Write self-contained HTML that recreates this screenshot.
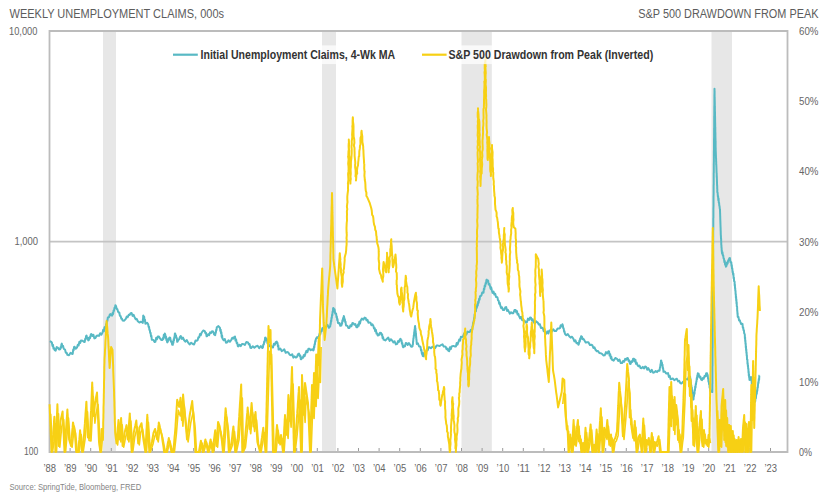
<!DOCTYPE html>
<html><head><meta charset="utf-8"><style>
html,body{margin:0;padding:0;background:#fff;width:834px;height:500px;overflow:hidden}
</style></head><body>
<svg width="834" height="500" viewBox="0 0 834 500" style="display:block"><rect x="0" y="0" width="834" height="500" fill="#ffffff"/><rect x="103" y="31" width="13.0" height="421" fill="#e7e7e7"/><rect x="322" y="31" width="14.0" height="421" fill="#e7e7e7"/><rect x="461.5" y="31" width="30.3" height="421" fill="#e7e7e7"/><rect x="711.5" y="31" width="20.5" height="421" fill="#e7e7e7"/><line x1="49.5" y1="241.6" x2="787.5" y2="241.6" stroke="#c4c4c4" stroke-width="1.6"/><line x1="49.5" y1="452" x2="49.5" y2="448" stroke="#9a9a9a" stroke-width="1"/><line x1="70.1" y1="452" x2="70.1" y2="448" stroke="#9a9a9a" stroke-width="1"/><line x1="90.7" y1="452" x2="90.7" y2="448" stroke="#9a9a9a" stroke-width="1"/><line x1="111.3" y1="452" x2="111.3" y2="448" stroke="#9a9a9a" stroke-width="1"/><line x1="131.9" y1="452" x2="131.9" y2="448" stroke="#9a9a9a" stroke-width="1"/><line x1="152.5" y1="452" x2="152.5" y2="448" stroke="#9a9a9a" stroke-width="1"/><line x1="173.1" y1="452" x2="173.1" y2="448" stroke="#9a9a9a" stroke-width="1"/><line x1="193.7" y1="452" x2="193.7" y2="448" stroke="#9a9a9a" stroke-width="1"/><line x1="214.3" y1="452" x2="214.3" y2="448" stroke="#9a9a9a" stroke-width="1"/><line x1="234.9" y1="452" x2="234.9" y2="448" stroke="#9a9a9a" stroke-width="1"/><line x1="255.5" y1="452" x2="255.5" y2="448" stroke="#9a9a9a" stroke-width="1"/><line x1="276.1" y1="452" x2="276.1" y2="448" stroke="#9a9a9a" stroke-width="1"/><line x1="296.7" y1="452" x2="296.7" y2="448" stroke="#9a9a9a" stroke-width="1"/><line x1="317.3" y1="452" x2="317.3" y2="448" stroke="#9a9a9a" stroke-width="1"/><line x1="337.9" y1="452" x2="337.9" y2="448" stroke="#9a9a9a" stroke-width="1"/><line x1="358.5" y1="452" x2="358.5" y2="448" stroke="#9a9a9a" stroke-width="1"/><line x1="379.1" y1="452" x2="379.1" y2="448" stroke="#9a9a9a" stroke-width="1"/><line x1="399.7" y1="452" x2="399.7" y2="448" stroke="#9a9a9a" stroke-width="1"/><line x1="420.3" y1="452" x2="420.3" y2="448" stroke="#9a9a9a" stroke-width="1"/><line x1="440.9" y1="452" x2="440.9" y2="448" stroke="#9a9a9a" stroke-width="1"/><line x1="461.5" y1="452" x2="461.5" y2="448" stroke="#9a9a9a" stroke-width="1"/><line x1="482.1" y1="452" x2="482.1" y2="448" stroke="#9a9a9a" stroke-width="1"/><line x1="502.7" y1="452" x2="502.7" y2="448" stroke="#9a9a9a" stroke-width="1"/><line x1="523.3" y1="452" x2="523.3" y2="448" stroke="#9a9a9a" stroke-width="1"/><line x1="543.9" y1="452" x2="543.9" y2="448" stroke="#9a9a9a" stroke-width="1"/><line x1="564.5" y1="452" x2="564.5" y2="448" stroke="#9a9a9a" stroke-width="1"/><line x1="585.1" y1="452" x2="585.1" y2="448" stroke="#9a9a9a" stroke-width="1"/><line x1="605.7" y1="452" x2="605.7" y2="448" stroke="#9a9a9a" stroke-width="1"/><line x1="626.3" y1="452" x2="626.3" y2="448" stroke="#9a9a9a" stroke-width="1"/><line x1="646.9" y1="452" x2="646.9" y2="448" stroke="#9a9a9a" stroke-width="1"/><line x1="667.5" y1="452" x2="667.5" y2="448" stroke="#9a9a9a" stroke-width="1"/><line x1="688.1" y1="452" x2="688.1" y2="448" stroke="#9a9a9a" stroke-width="1"/><line x1="708.7" y1="452" x2="708.7" y2="448" stroke="#9a9a9a" stroke-width="1"/><line x1="729.3" y1="452" x2="729.3" y2="448" stroke="#9a9a9a" stroke-width="1"/><line x1="749.9" y1="452" x2="749.9" y2="448" stroke="#9a9a9a" stroke-width="1"/><line x1="770.5" y1="452" x2="770.5" y2="448" stroke="#9a9a9a" stroke-width="1"/><path d="M49.5,31 H787.5 V452 H49.5 Z" fill="none" stroke="#bcbcbc" stroke-width="1.8"/><path d="M49.8,341.2 L51.4,342.0 L51.9,342.7 L52.5,346.0 L53.0,345.0 L53.5,348.5 L54.1,348.1 L54.6,350.0 L55.7,350.6 L56.7,347.1 L57.8,347.6 L59.0,349.4 L60.2,349.2 L60.6,347.1 L61.0,347.9 L61.4,344.5 L61.8,343.6 L62.4,346.5 L63.0,345.7 L63.6,348.3 L64.2,349.2 L65.0,349.6 L65.8,352.7 L66.6,352.7 L67.4,354.8 L69.0,355.3 L70.6,352.8 L72.2,354.0 L72.7,353.8 L73.2,349.5 L73.6,350.3 L74.1,347.0 L74.6,346.8 L75.8,348.7 L77.0,347.6 L77.8,344.8 L78.6,345.5 L79.4,341.8 L80.2,342.9 L81.0,340.4 L82.6,340.7 L84.2,342.0 L84.7,342.1 L85.2,338.8 L85.6,339.4 L86.1,336.0 L86.6,335.6 L87.1,338.2 L87.7,337.7 L88.2,340.4 L88.8,340.1 L89.5,337.3 L90.1,338.1 L90.8,334.4 L91.4,334.0 L92.4,336.0 L93.4,334.7 L94.4,338.4 L95.4,338.0 L96.6,335.7 L97.8,335.6 L99.0,335.9 L100.2,333.2 L101.4,334.8 L102.6,332.4 L103.2,329.8 L103.9,331.3 L104.5,327.2 L105.2,328.4 L105.8,326.0 L106.2,324.0 L106.6,324.2 L107.0,320.6 L107.4,321.0 L107.8,317.6 L108.2,317.2 L109.0,317.3 L109.8,314.6 L110.6,314.0 L111.4,315.5 L112.2,315.6 L112.7,312.7 L113.1,314.0 L113.6,310.4 L114.0,310.9 L114.5,307.7 L114.9,308.0 L115.4,305.2 L116.0,306.0 L116.7,308.9 L117.3,308.9 L118.0,311.6 L118.6,312.4 L119.3,312.5 L119.9,315.9 L120.6,315.9 L121.3,318.7 L121.9,318.5 L122.6,320.4 L124.2,320.7 L125.8,318.8 L126.8,316.5 L127.7,317.1 L128.7,314.8 L129.6,315.0 L130.6,313.2 L131.6,313.0 L132.6,315.9 L133.6,314.8 L134.6,317.2 L135.7,319.3 L136.7,318.9 L137.8,321.2 L139.4,322.6 L141.0,321.7 L142.6,322.8 L142.8,322.9 L142.9,319.1 L143.1,319.3 L143.2,315.7 L143.4,315.6 L143.8,317.7 L144.2,316.8 L144.6,321.0 L145.0,319.8 L145.4,323.7 L145.8,323.6 L147.0,322.7 L148.2,324.4 L148.6,326.8 L149.0,326.7 L149.4,329.9 L149.8,329.9 L150.2,332.8 L150.6,332.7 L151.0,336.5 L151.4,335.9 L151.8,339.7 L152.2,339.6 L153.4,339.9 L154.6,342.0 L155.4,341.8 L156.2,337.7 L157.0,339.3 L157.8,336.4 L158.9,336.4 L160.0,338.4 L161.2,339.9 L162.4,340.0 L162.9,338.1 L163.4,338.9 L163.8,334.8 L164.3,336.3 L164.8,333.6 L165.2,334.2 L165.6,338.0 L166.0,336.5 L166.4,340.1 L166.8,340.3 L167.2,342.4 L167.8,341.8 L168.4,338.6 L169.0,339.7 L169.6,337.6 L170.2,337.7 L170.9,341.6 L171.5,341.3 L172.2,344.8 L172.8,344.8 L173.1,341.9 L173.4,342.8 L173.7,339.2 L174.0,340.4 L174.3,337.2 L174.6,336.9 L174.9,333.4 L175.2,333.6 L175.6,335.5 L176.0,335.5 L176.4,338.2 L176.8,338.0 L177.2,341.8 L177.6,341.6 L178.4,339.4 L179.2,339.4 L180.0,336.9 L180.8,336.0 L181.9,338.9 L182.9,337.5 L184.0,340.0 L185.3,341.6 L186.7,340.1 L188.0,342.4 L189.6,344.5 L191.2,342.7 L192.8,344.0 L194.1,344.5 L195.5,340.6 L196.8,340.8 L197.6,340.2 L198.4,337.3 L199.2,337.4 L200.0,333.9 L200.8,335.3 L201.6,332.8 L203.2,330.5 L204.8,331.2 L205.4,333.2 L206.0,332.8 L206.6,336.3 L207.2,336.0 L208.2,334.2 L209.1,335.2 L210.1,332.4 L211.0,332.9 L212.0,331.2 L213.1,331.4 L214.1,334.4 L215.2,335.2 L215.5,332.8 L215.8,333.0 L216.2,329.7 L216.5,330.2 L216.8,327.2 L218.4,326.1 L220.0,328.0 L220.3,330.8 L220.7,329.6 L221.0,333.1 L221.4,332.4 L221.7,336.9 L222.1,335.4 L222.4,338.4 L223.6,340.2 L224.8,339.0 L226.0,342.8 L227.2,342.4 L228.5,340.3 L229.9,341.8 L231.2,340.0 L232.3,337.7 L233.3,338.6 L234.4,336.8 L235.0,336.6 L235.5,340.6 L236.1,339.5 L236.7,343.2 L237.3,342.9 L237.8,346.2 L238.4,346.4 L239.6,344.7 L240.8,346.1 L242.0,344.0 L243.2,344.0 L244.8,344.9 L246.4,342.0 L248.0,342.4 L248.8,344.5 L249.6,344.1 L250.4,347.8 L251.2,348.0 L252.8,346.2 L254.4,347.7 L256.0,346.4 L257.6,345.8 L259.2,348.1 L260.8,346.1 L262.4,348.0 L262.9,347.3 L263.3,344.5 L263.8,344.6 L264.2,341.4 L264.7,342.0 L265.1,337.8 L265.6,337.6 L266.2,339.9 L266.9,339.2 L267.5,343.4 L268.2,341.8 L268.8,344.8 L269.9,346.3 L270.9,345.7 L272.0,347.2 L273.0,347.4 L273.9,343.7 L274.9,344.7 L275.8,342.1 L276.8,341.6 L277.2,343.5 L277.5,342.9 L277.9,346.4 L278.3,345.4 L278.6,349.6 L279.0,349.6 L280.3,348.6 L281.7,351.1 L283.0,350.4 L284.3,349.4 L285.7,352.8 L287.0,352.0 L288.3,352.4 L289.7,354.8 L291.0,355.2 L292.2,354.2 L293.4,357.6 L294.6,356.4 L295.8,357.6 L296.9,357.0 L297.9,354.4 L299.0,353.6 L299.6,356.0 L300.2,355.2 L300.8,359.2 L301.4,359.2 L302.2,357.3 L303.0,357.7 L303.8,355.1 L304.6,356.1 L305.4,353.6 L306.4,350.8 L307.4,352.2 L308.4,348.7 L309.4,348.8 L310.7,350.2 L312.1,349.3 L313.4,350.4 L313.7,349.6 L314.0,346.5 L314.3,347.5 L314.6,344.2 L314.9,344.5 L315.2,341.0 L315.5,341.7 L315.8,339.2 L316.9,337.2 L317.9,337.9 L319.0,336.0 L319.7,333.3 L320.3,334.4 L321.0,331.1 L321.7,331.2 L322.3,328.2 L323.0,328.0 L324.6,328.6 L326.2,326.4 L327.5,324.8 L328.9,327.8 L330.2,326.4 L330.5,323.6 L330.7,324.2 L331.0,320.6 L331.3,321.1 L331.5,317.8 L331.8,318.1 L332.1,314.5 L332.3,315.6 L332.6,311.6 L332.9,312.3 L333.1,308.3 L333.4,308.0 L334.0,310.6 L334.6,309.3 L335.2,313.6 L335.8,313.6 L336.1,313.6 L336.5,317.2 L336.8,316.4 L337.2,320.2 L337.5,319.0 L337.9,322.8 L338.2,323.2 L339.3,322.9 L340.3,325.8 L341.4,325.6 L341.7,323.0 L342.1,323.9 L342.4,320.2 L342.8,321.4 L343.1,318.0 L343.5,318.8 L343.8,316.0 L344.1,316.8 L344.5,319.8 L344.8,319.1 L345.2,322.2 L345.5,321.6 L345.9,325.0 L346.2,325.6 L347.3,325.7 L348.3,327.9 L349.4,328.0 L350.4,325.3 L351.4,326.3 L352.4,323.1 L353.4,323.2 L354.4,324.7 L355.4,324.0 L356.4,327.2 L357.4,327.2 L358.0,324.6 L358.7,325.8 L359.3,321.8 L360.0,323.6 L360.6,320.8 L361.9,318.6 L363.3,319.7 L364.6,317.6 L365.6,317.9 L366.5,320.4 L367.5,319.7 L368.4,322.7 L369.4,322.4 L370.4,322.7 L371.4,325.2 L372.4,324.4 L373.4,326.0 L374.0,328.5 L374.6,328.0 L375.2,331.3 L375.9,329.8 L376.5,333.6 L377.1,333.4 L377.7,335.4 L378.8,335.2 L380.0,332.7 L381.1,332.9 L381.6,334.9 L382.1,334.2 L382.6,338.1 L383.1,337.1 L383.6,339.7 L385.3,340.4 L387.0,338.8 L388.3,337.6 L389.6,341.0 L390.8,339.2 L392.1,340.5 L393.4,342.5 L394.6,341.3 L395.9,344.4 L397.2,343.9 L398.1,341.1 L398.9,342.0 L399.8,339.5 L400.6,338.8 L401.0,340.8 L401.5,340.2 L401.9,343.6 L402.3,343.0 L402.8,346.7 L403.2,347.3 L404.1,345.7 L404.9,346.4 L405.8,342.9 L406.6,343.1 L407.7,344.9 L408.9,343.0 L410.0,344.8 L411.2,346.8 L412.5,346.5 L412.7,344.5 L412.9,344.7 L413.1,340.9 L413.2,341.7 L413.4,338.3 L413.6,338.4 L413.8,335.3 L414.0,336.1 L414.2,332.0 L414.4,332.6 L414.5,329.7 L414.7,330.4 L414.9,326.9 L415.1,326.0 L415.2,328.9 L415.4,328.1 L415.5,331.0 L415.7,331.0 L415.8,334.4 L416.0,333.5 L416.1,337.5 L416.2,336.6 L416.4,339.9 L416.5,339.6 L416.7,343.0 L416.8,343.9 L417.9,343.4 L419.1,346.5 L420.2,346.5 L420.6,347.3 L421.0,350.4 L421.4,349.8 L421.9,353.8 L422.3,353.0 L422.7,355.8 L423.6,356.3 L424.4,352.3 L425.2,353.7 L426.1,351.6 L427.0,349.1 L427.8,350.1 L428.6,347.3 L429.5,347.3 L430.9,348.2 L432.4,346.8 L433.8,347.3 L435.2,347.9 L436.6,345.4 L438.0,345.6 L439.7,346.0 L441.4,344.8 L442.5,344.3 L443.7,346.6 L444.8,346.5 L445.6,346.7 L446.5,349.2 L447.4,348.6 L448.2,350.7 L449.1,351.2 L449.9,347.2 L450.8,349.1 L451.6,346.5 L453.3,345.9 L455.0,346.5 L455.9,346.5 L456.7,343.0 L457.5,344.6 L458.4,342.2 L459.2,339.4 L460.1,340.6 L460.9,336.8 L461.8,337.1 L462.9,336.6 L464.1,333.6 L465.2,333.7 L466.3,334.6 L467.5,331.6 L468.6,332.0 L469.7,332.0 L470.9,329.8 L472.0,330.3 L472.3,329.4 L472.5,326.2 L472.8,326.5 L473.0,323.1 L473.3,323.7 L473.6,321.1 L473.8,321.6 L474.1,317.9 L474.4,318.4 L474.6,314.3 L474.9,315.5 L475.1,311.3 L475.4,311.4 L475.9,311.3 L476.3,307.0 L476.8,307.9 L477.3,304.5 L477.7,305.5 L478.2,301.6 L478.6,302.8 L479.1,298.8 L479.6,299.6 L480.0,296.2 L480.5,296.1 L481.4,295.6 L482.2,292.4 L483.1,292.7 L483.5,292.8 L483.9,288.7 L484.3,289.4 L484.7,285.5 L485.2,286.4 L485.6,283.1 L486.0,283.6 L486.4,280.0 L486.8,279.6 L487.4,281.5 L488.1,280.6 L488.7,284.6 L489.4,283.8 L490.0,286.0 L490.6,288.9 L491.2,287.4 L491.8,290.3 L492.6,292.9 L493.5,291.6 L494.4,294.6 L495.2,293.8 L496.0,297.0 L496.9,297.1 L497.5,297.6 L498.0,300.4 L498.6,300.6 L499.2,303.9 L499.7,302.6 L500.3,305.6 L501.2,308.1 L502.0,307.2 L502.9,309.9 L504.1,310.0 L505.4,307.3 L506.2,307.1 L507.1,311.0 L507.9,309.9 L508.8,311.6 L509.9,313.7 L511.1,312.2 L512.2,313.3 L513.3,313.2 L514.5,310.1 L515.6,309.9 L516.3,312.5 L517.0,311.1 L517.6,314.5 L518.3,313.8 L519.0,315.8 L520.1,318.4 L521.1,316.9 L522.2,320.3 L523.3,320.1 L524.5,320.6 L525.8,322.6 L526.9,322.3 L528.0,318.6 L529.0,320.0 L530.1,317.5 L531.0,317.7 L531.8,320.5 L532.6,319.2 L533.5,321.8 L534.9,323.5 L536.3,321.4 L537.7,322.6 L538.8,324.6 L539.9,324.2 L540.9,328.0 L542.0,327.7 L542.8,327.9 L543.7,331.2 L544.5,330.0 L545.4,333.5 L546.2,333.7 L547.3,331.3 L548.4,333.5 L549.4,330.4 L550.5,330.3 L551.9,331.5 L553.3,329.4 L554.7,331.1 L556.1,331.1 L557.6,328.5 L559.0,328.6 L559.9,328.2 L560.7,325.3 L561.5,326.5 L562.4,324.3 L562.8,325.2 L563.2,328.2 L563.6,328.2 L564.1,331.5 L564.5,331.3 L564.9,333.7 L566.3,335.2 L567.8,334.1 L569.2,336.2 L570.6,337.6 L572.0,336.7 L573.4,338.8 L574.4,341.4 L575.4,340.3 L576.5,343.2 L577.5,342.9 L578.5,344.7 L578.9,343.9 L579.4,340.6 L579.8,341.7 L580.2,338.3 L580.7,339.1 L581.1,336.2 L582.0,336.8 L582.8,339.2 L583.6,338.9 L584.5,340.5 L585.8,342.6 L587.0,342.2 L588.4,342.2 L589.9,344.9 L591.3,344.7 L592.3,345.1 L593.4,348.0 L594.5,347.3 L595.5,349.8 L596.8,351.2 L598.0,350.9 L599.3,353.1 L600.6,353.2 L602.0,353.8 L603.4,355.4 L604.7,355.3 L606.0,352.1 L607.2,353.5 L608.5,351.2 L609.1,351.6 L609.6,355.6 L610.2,354.1 L610.8,358.3 L611.3,356.8 L611.9,359.7 L613.6,360.6 L615.3,358.0 L617.0,358.8 L618.3,361.0 L619.5,359.5 L620.8,363.1 L622.1,363.1 L623.1,361.0 L624.1,361.8 L625.2,358.9 L626.2,359.8 L627.2,358.0 L627.9,358.2 L628.6,361.0 L629.2,360.3 L629.9,363.8 L630.6,363.9 L631.5,361.3 L632.3,361.9 L633.1,358.8 L634.0,358.8 L634.7,361.5 L635.4,359.7 L636.0,363.8 L636.7,362.7 L637.4,364.8 L638.5,366.3 L639.5,365.6 L640.6,368.0 L641.7,368.2 L642.8,366.9 L644.0,368.4 L645.1,366.5 L646.1,366.9 L647.2,369.7 L648.2,368.1 L649.3,369.9 L650.6,372.0 L651.8,369.8 L653.1,372.7 L654.4,372.4 L655.7,371.0 L657.0,372.1 L658.2,370.6 L659.5,370.7 L659.7,369.7 L660.0,367.2 L660.2,367.4 L660.5,364.1 L660.7,364.9 L661.0,360.6 L661.2,360.5 L661.5,362.6 L661.9,362.5 L662.2,365.5 L662.5,364.7 L662.8,368.3 L663.1,368.0 L663.5,371.8 L663.8,371.6 L664.9,371.6 L666.1,373.6 L667.2,373.3 L668.0,373.1 L668.9,376.9 L669.7,375.8 L670.6,379.3 L671.4,379.2 L672.8,378.5 L674.3,380.2 L675.7,379.2 L676.9,378.8 L678.1,381.4 L679.2,380.9 L680.4,383.3 L681.6,383.5 L682.9,381.8 L684.2,382.9 L685.4,378.9 L686.7,379.2 L687.8,379.4 L689.0,376.2 L690.1,376.7 L690.3,378.9 L690.5,378.7 L690.7,382.8 L690.9,382.2 L691.1,384.9 L691.3,385.3 L691.5,388.7 L691.8,387.5 L692.0,391.1 L692.2,390.6 L692.4,394.0 L692.6,393.8 L692.8,398.0 L693.0,397.2 L693.2,399.6 L693.5,399.5 L693.7,395.2 L694.0,396.1 L694.2,392.4 L694.5,393.9 L694.7,389.7 L695.0,390.3 L695.2,386.4 L695.5,387.7 L695.8,383.8 L696.0,384.3 L696.3,381.5 L696.5,381.5 L696.8,377.9 L697.0,379.3 L697.3,375.7 L697.5,375.6 L697.8,373.3 L698.6,373.7 L699.5,377.6 L700.3,376.5 L701.2,379.7 L702.0,380.1 L702.9,378.0 L703.7,378.8 L704.5,376.0 L705.4,376.4 L706.2,373.3 L707.1,373.3 L707.4,376.1 L707.7,375.0 L708.0,378.4 L708.2,378.4 L708.5,381.7 L708.8,381.6 L709.1,384.4 L709.4,384.1 L709.6,387.6 L709.9,387.0 L710.2,390.5 L710.5,391.1 L712.3,392.0 L712.3,389.3 L712.3,390.4 L712.3,386.2 L712.3,387.3 L712.3,383.9 L712.4,383.6 L712.4,380.6 L712.4,381.3 L712.4,377.7 L712.4,377.8 L712.4,374.7 L712.4,374.6 L712.4,371.8 L712.4,371.9 L712.4,368.4 L712.4,369.4 L712.4,366.0 L712.5,365.9 L712.5,362.0 L712.5,362.7 L712.5,359.4 L712.5,359.8 L712.5,357.0 L712.5,357.4 L712.5,353.7 L712.5,353.8 L712.5,350.9 L712.5,350.7 L712.5,347.3 L712.6,348.2 L712.6,344.9 L712.6,345.4 L712.6,341.6 L712.6,342.7 L712.6,338.7 L712.6,338.8 L712.6,336.1 L712.6,336.2 L712.6,333.0 L712.6,333.3 L712.7,329.2 L712.7,330.4 L712.7,326.8 L712.7,327.8 L712.7,324.0 L712.7,324.3 L712.7,320.8 L712.7,321.8 L712.7,318.2 L712.7,318.2 L712.7,315.1 L712.7,315.7 L712.8,312.2 L712.8,312.8 L712.8,308.8 L712.8,309.6 L712.8,305.6 L712.8,306.8 L712.8,302.3 L712.8,303.8 L712.8,299.8 L712.8,300.1 L712.8,296.7 L712.8,297.1 L712.9,293.4 L712.9,294.3 L712.9,290.5 L712.9,290.9 L712.9,288.3 L712.9,288.2 L712.9,284.7 L712.9,285.5 L712.9,281.7 L712.9,282.3 L712.9,278.5 L713.0,279.0 L713.0,276.1 L713.0,276.0 L713.0,273.0 L713.0,273.8 L713.0,269.5 L713.0,269.9 L713.0,266.7 L713.0,267.2 L713.0,263.8 L713.0,264.6 L713.0,261.2 L713.1,261.2 L713.1,258.1 L713.1,258.2 L713.1,255.1 L713.1,255.7 L713.1,251.5 L713.1,252.8 L713.1,249.1 L713.1,249.9 L713.1,246.0 L713.1,246.8 L713.1,243.1 L713.2,243.9 L713.2,239.8 L713.2,240.9 L713.2,236.4 L713.2,237.1 L713.2,235.0 L713.2,232.4 L713.2,232.8 L713.2,230.0 L713.3,229.9 L713.3,226.2 L713.3,227.6 L713.3,223.0 L713.3,223.8 L713.3,221.1 L713.3,220.6 L713.3,218.1 L713.4,217.8 L713.4,214.6 L713.4,215.0 L713.4,211.9 L713.4,212.4 L713.4,208.1 L713.4,209.1 L713.5,206.1 L713.5,206.3 L713.5,202.1 L713.5,203.4 L713.5,200.1 L713.5,200.4 L713.5,196.1 L713.5,197.3 L713.6,193.7 L713.6,194.4 L713.6,190.3 L713.6,191.2 L713.6,187.5 L713.6,188.3 L713.6,184.6 L713.7,185.1 L713.7,182.2 L713.7,182.7 L713.7,178.8 L713.7,179.8 L713.7,175.6 L713.7,176.3 L713.7,172.9 L713.8,172.8 L713.8,169.5 L713.8,169.8 L713.8,166.7 L713.8,167.8 L713.8,164.3 L713.8,164.9 L713.9,161.2 L713.9,161.9 L713.9,158.1 L713.9,158.6 L713.9,154.5 L713.9,155.5 L713.9,152.1 L713.9,152.5 L714.0,148.5 L714.0,149.1 L714.0,145.8 L714.0,146.6 L714.0,143.0 L714.0,143.1 L714.0,139.6 L714.0,139.9 L714.1,137.1 L714.1,137.7 L714.1,134.1 L714.1,134.9 L714.1,131.2 L714.1,131.6 L714.1,127.9 L714.2,128.0 L714.2,125.4 L714.2,125.6 L714.2,121.7 L714.2,123.1 L714.2,119.2 L714.2,119.2 L714.2,116.0 L714.3,117.1 L714.3,113.5 L714.3,113.1 L714.3,109.7 L714.3,110.1 L714.3,107.3 L714.3,107.1 L714.4,104.4 L714.4,104.7 L714.4,101.4 L714.4,102.1 L714.4,98.0 L714.4,98.5 L714.4,95.7 L714.4,95.9 L714.5,92.5 L714.5,93.2 L714.5,88.8 L714.5,88.7 L714.5,90.8 L714.6,91.0 L714.6,94.0 L714.6,93.5 L714.6,97.5 L714.7,97.1 L714.7,100.5 L714.7,99.1 L714.8,102.9 L714.8,102.9 L714.8,105.9 L714.9,105.9 L714.9,109.0 L714.9,108.2 L714.9,112.3 L715.0,111.7 L715.0,114.9 L715.0,114.1 L715.1,118.3 L715.1,118.0 L715.1,121.6 L715.1,120.1 L715.2,124.4 L715.2,123.6 L715.2,127.0 L715.3,127.1 L715.3,129.7 L715.3,129.1 L715.3,132.7 L715.4,132.4 L715.4,135.6 L715.4,135.8 L715.5,138.7 L715.5,138.7 L715.5,142.1 L715.6,141.0 L715.6,145.3 L715.6,144.8 L715.6,148.6 L715.7,147.8 L715.7,150.0 L715.8,153.1 L715.8,151.6 L715.9,155.9 L715.9,154.8 L716.0,158.2 L716.1,158.6 L716.1,161.8 L716.2,161.4 L716.2,165.1 L716.3,164.2 L716.4,167.2 L716.4,167.0 L716.5,170.3 L716.5,170.4 L716.6,173.4 L716.7,173.5 L716.7,177.3 L716.8,175.8 L716.9,179.8 L716.9,179.2 L717.0,182.9 L717.0,182.4 L717.1,185.6 L717.2,185.8 L717.2,188.6 L717.3,188.9 L717.3,192.1 L717.4,192.5 L717.6,192.6 L717.9,196.8 L718.1,196.3 L718.3,200.1 L718.6,198.6 L718.8,202.6 L719.1,202.8 L719.3,205.8 L719.5,205.8 L719.8,208.8 L720.0,209.5 L720.0,209.9 L720.1,213.7 L720.1,212.9 L720.2,216.4 L720.2,216.4 L720.3,219.9 L720.3,219.3 L720.4,222.3 L720.4,222.2 L720.5,225.5 L720.5,225.2 L720.6,228.0 L720.6,227.5 L720.7,231.4 L720.7,230.9 L720.8,234.7 L720.8,235.0 L720.9,235.7 L721.0,239.0 L721.1,238.5 L721.2,242.1 L721.2,241.3 L721.3,245.1 L721.4,245.1 L721.5,247.9 L721.6,247.8 L721.7,250.5 L722.1,253.5 L722.5,252.3 L722.8,255.4 L723.2,255.3 L723.6,258.5 L724.0,258.8 L724.4,262.2 L724.8,261.0 L725.1,264.6 L725.5,263.9 L725.9,266.7 L726.5,265.9 L727.0,262.5 L727.6,263.6 L728.2,260.4 L728.7,260.1 L729.3,258.2 L729.9,258.1 L730.4,262.2 L731.0,262.4 L731.3,262.3 L731.5,265.9 L731.8,265.1 L732.0,268.8 L732.3,268.4 L732.6,272.1 L732.8,271.5 L733.1,274.6 L733.4,273.8 L733.6,278.1 L733.9,277.6 L734.1,281.2 L734.4,281.1 L734.6,281.7 L734.7,285.4 L734.9,284.6 L735.0,288.1 L735.2,288.1 L735.3,290.7 L735.5,290.6 L735.6,294.1 L735.8,294.1 L735.9,297.7 L736.1,296.7 L736.2,300.4 L736.4,299.5 L736.5,303.4 L736.7,302.2 L736.8,306.6 L737.0,306.6 L737.1,306.7 L737.2,311.0 L737.3,310.5 L737.5,314.1 L737.6,313.0 L737.7,316.6 L737.8,317.0 L738.4,316.8 L739.1,320.6 L739.8,320.2 L740.4,322.1 L741.2,324.1 L742.1,323.8 L742.5,323.9 L742.8,327.7 L743.2,327.6 L743.5,330.2 L743.9,330.2 L744.2,333.3 L744.6,334.0 L744.8,334.5 L744.9,338.3 L745.1,337.4 L745.2,341.3 L745.4,340.5 L745.5,344.0 L745.7,343.4 L745.8,347.4 L746.0,346.4 L746.1,350.3 L746.3,349.4 L746.4,353.0 L746.6,352.4 L746.7,355.7 L746.9,355.4 L747.0,359.4 L747.2,359.5 L747.4,359.6 L747.5,364.0 L747.7,363.0 L747.9,366.5 L748.0,365.4 L748.2,369.0 L748.4,368.8 L748.5,372.4 L748.7,371.7 L748.8,375.6 L749.0,374.2 L749.2,377.7 L749.3,377.3 L749.5,379.9 L750.2,379.7 L751.0,377.0 L751.2,377.5 L751.4,380.6 L751.6,380.8 L751.8,384.3 L752.0,383.2 L752.2,387.0 L752.4,386.3 L752.6,390.6 L752.8,389.8 L753.0,392.0 L753.3,395.0 L753.5,393.3 L753.8,397.4 L754.0,397.1 L754.3,400.5 L754.5,399.7 L754.8,402.0 L755.2,401.3 L755.5,398.1 L755.9,398.2 L756.2,395.0 L756.6,394.0 L756.8,393.6 L757.1,390.1 L757.3,391.0 L757.5,387.4 L757.8,387.6 L758.0,385.0 L758.3,382.1 L758.5,383.3 L758.8,378.9 L759.1,380.0 L759.3,375.6 L759.6,375.4" fill="none" stroke="#58b9c4" stroke-width="2" stroke-linejoin="round"/><path d="M49.6,404.3 L49.7,406.8 L49.8,409.3 L49.9,411.8 L50.0,414.3 L50.1,416.9 L50.2,419.4 L50.3,421.9 L50.4,424.4 L50.5,426.9 L50.6,429.4 L50.7,431.9 L50.8,434.4 L50.9,436.9 L51.0,439.4 L51.1,442.0 L51.2,444.5 L51.3,447.0 L51.4,449.5 L51.5,452.0 L51.8,449.5 L52.0,447.0 L52.3,444.4 L52.5,441.9 L52.8,439.4 L53.0,436.9 L53.2,434.4 L53.3,431.8 L53.5,429.3 L53.7,426.8 L53.9,424.3 L54.0,421.7 L54.2,419.2 L54.4,416.7 L54.5,419.2 L54.5,421.7 L54.6,424.3 L54.7,426.8 L54.8,429.3 L54.8,431.8 L54.9,434.4 L55.0,436.9 L55.0,439.4 L55.1,441.9 L55.2,444.4 L55.3,447.0 L55.3,449.5 L55.4,452.0 L55.5,449.5 L55.6,447.0 L55.7,444.5 L55.8,442.0 L55.9,439.4 L56.0,436.9 L56.1,434.4 L56.2,431.9 L56.3,429.4 L56.5,426.9 L56.6,424.4 L56.7,421.9 L56.8,419.4 L56.9,416.9 L57.0,414.3 L57.1,411.8 L57.2,409.3 L57.3,406.8 L57.4,404.3 L57.5,406.8 L57.6,409.2 L57.6,411.7 L57.7,414.1 L57.8,416.6 L57.9,419.0 L57.9,421.5 L58.0,423.9 L58.1,426.4 L58.2,428.8 L58.2,431.3 L58.3,433.7 L58.4,436.2 L58.5,438.6 L58.5,441.1 L58.6,443.5 L58.7,446.0 L58.9,443.5 L59.1,440.9 L59.3,438.4 L59.5,435.8 L59.7,433.3 L59.8,430.8 L60.0,428.2 L60.2,425.7 L60.4,423.1 L60.6,420.6 L61.1,418.3 L61.6,416.1 L62.1,413.8 L62.6,411.5 L62.7,414.0 L62.8,416.6 L63.0,419.1 L63.1,421.6 L63.2,424.2 L63.3,426.7 L63.4,429.2 L63.5,431.8 L63.7,434.3 L63.8,436.8 L63.9,439.3 L64.0,441.9 L64.1,444.4 L64.3,446.9 L64.4,449.5 L64.5,452.0 L64.7,449.5 L64.8,447.0 L65.0,444.5 L65.2,442.0 L65.4,439.5 L65.5,437.0 L65.7,434.5 L65.9,432.0 L66.0,429.5 L66.2,427.0 L66.4,424.5 L66.5,422.0 L66.7,419.5 L66.9,417.0 L67.1,414.5 L67.2,412.0 L67.4,409.5 L67.5,412.0 L67.7,414.5 L67.8,417.0 L68.0,419.5 L68.1,422.0 L68.2,424.4 L68.4,426.9 L68.5,429.4 L68.7,431.9 L68.8,434.4 L69.0,436.9 L69.1,439.4 L69.7,441.6 L70.4,443.8 L71.0,446.0 L71.2,443.4 L71.4,440.8 L71.7,438.2 L71.9,435.6 L72.1,432.9 L72.3,430.3 L72.6,427.7 L72.8,425.1 L73.0,422.5 L73.5,424.7 L74.1,426.8 L74.6,429.0 L74.8,431.6 L75.0,434.1 L75.1,436.7 L75.3,439.2 L75.5,441.8 L75.7,444.3 L75.8,446.9 L76.0,449.4 L76.2,452.0 L78.2,452.0 L78.4,449.6 L78.6,447.2 L78.8,444.8 L79.0,442.4 L79.3,439.9 L79.5,437.5 L79.7,435.1 L79.9,432.7 L80.1,430.3 L80.3,432.7 L80.5,435.1 L80.8,437.5 L81.0,439.9 L81.2,442.4 L81.4,444.8 L81.7,447.2 L81.9,449.6 L82.1,452.0 L82.4,449.6 L82.6,447.3 L82.9,444.9 L83.2,442.6 L83.5,440.2 L83.7,437.9 L84.0,435.5 L84.2,433.1 L84.3,430.7 L84.5,428.3 L84.7,425.8 L84.9,423.4 L85.0,421.0 L85.2,418.6 L85.4,416.2 L85.5,413.8 L85.7,411.4 L85.9,408.9 L86.1,406.5 L86.2,404.1 L86.4,401.7 L86.5,404.3 L86.6,406.8 L86.7,409.4 L86.8,411.9 L86.9,414.5 L87.0,417.0 L87.2,419.6 L87.3,422.2 L87.4,424.7 L87.5,427.3 L87.6,429.8 L87.7,432.4 L87.8,434.9 L87.9,437.5 L89.9,438.1 L90.0,435.6 L90.1,433.1 L90.2,430.5 L90.3,428.0 L90.4,425.5 L90.5,423.0 L90.6,420.4 L90.7,417.9 L90.8,415.4 L90.9,412.9 L91.1,410.4 L91.2,407.8 L91.3,405.3 L91.4,402.8 L91.5,400.3 L91.6,397.7 L91.7,395.2 L91.8,392.7 L91.9,390.2 L92.0,387.6 L92.1,385.1 L92.2,382.6 L92.3,385.2 L92.4,387.7 L92.6,390.3 L92.7,392.9 L92.8,395.4 L92.9,398.0 L93.1,400.6 L93.2,403.2 L93.3,405.7 L93.4,408.3 L93.6,410.9 L93.7,413.4 L93.8,416.0 L94.1,413.4 L94.3,410.8 L94.6,408.2 L94.8,405.6 L95.1,403.0 L95.6,400.4 L96.0,397.8 L96.5,395.2 L97.0,392.6 L97.1,395.1 L97.2,397.5 L97.3,400.0 L97.4,402.5 L97.5,405.0 L97.6,407.4 L97.7,409.9 L97.8,412.4 L97.9,414.8 L98.0,417.3 L98.1,419.8 L98.2,422.2 L98.3,424.7 L98.4,427.2 L98.5,429.6 L98.6,432.1 L98.7,434.6 L98.8,437.1 L98.9,439.5 L99.0,442.0 L99.3,444.5 L99.7,447.0 L100.0,449.5 L100.3,452.0 L100.4,449.4 L100.6,446.9 L100.7,444.3 L100.9,441.8 L101.0,439.2 L101.2,436.7 L101.3,434.1 L101.5,431.6 L101.6,429.0 L101.9,431.8 L102.2,434.5 L102.6,437.2 L102.9,440.0 L103.0,437.5 L103.0,435.0 L103.1,432.5 L103.1,430.0 L103.2,427.5 L103.2,425.0 L103.2,422.5 L103.3,420.0 L103.4,417.5 L103.4,415.0 L103.5,412.5 L103.5,410.0 L103.5,407.5 L103.6,405.0 L103.7,402.5 L103.7,400.0 L103.8,397.5 L103.8,395.0 L103.9,392.5 L103.9,390.0 L104.0,387.5 L104.0,385.0 L104.0,382.5 L104.1,380.0 L104.2,377.5 L104.2,375.0 L104.2,372.5 L104.3,370.0 L104.3,367.5 L104.4,365.0 L104.5,362.5 L104.5,360.0 L104.6,357.6 L104.8,355.1 L104.9,352.7 L105.0,350.2 L105.2,347.8 L105.3,345.4 L105.4,342.9 L105.5,340.5 L105.7,338.1 L105.8,335.6 L105.9,333.2 L106.1,330.8 L106.2,328.3 L106.3,325.9 L106.5,323.4 L106.6,321.0 L106.8,323.6 L107.1,326.1 L107.3,328.7 L107.5,331.3 L107.7,333.9 L108.0,336.4 L108.2,339.0 L108.3,341.4 L108.4,343.8 L108.5,346.2 L108.7,348.7 L108.8,351.1 L108.9,353.5 L109.0,355.9 L109.1,358.3 L109.2,360.8 L109.4,363.2 L109.5,365.6 L109.6,368.0 L109.8,365.4 L110.0,362.8 L110.2,360.1 L110.3,357.5 L110.5,354.9 L110.7,352.2 L110.9,349.6 L111.1,347.0 L112.5,350.0 L112.6,352.5 L112.7,355.0 L112.8,357.5 L112.9,360.0 L113.0,362.5 L113.1,365.0 L113.2,367.5 L113.2,370.0 L113.3,372.5 L113.4,375.0 L113.5,377.5 L113.6,380.0 L113.7,382.5 L113.8,385.0 L113.9,387.5 L114.0,390.0 L114.1,392.5 L114.1,395.1 L114.2,397.6 L114.3,400.1 L114.4,402.6 L114.4,405.2 L114.5,407.7 L114.6,410.2 L114.6,412.8 L114.7,415.3 L114.8,417.8 L114.8,420.4 L114.9,422.9 L115.0,425.4 L115.1,427.9 L115.1,430.5 L115.2,433.0 L115.5,435.6 L115.8,438.1 L116.2,440.7 L116.5,443.3 L116.7,440.7 L116.9,438.1 L117.2,435.5 L117.4,432.9 L117.6,430.3 L117.8,427.7 L118.1,425.1 L118.3,422.5 L118.5,419.9 L118.7,422.3 L118.8,424.8 L119.0,427.2 L119.2,429.6 L119.3,432.1 L119.5,434.5 L119.6,437.0 L119.8,439.4 L119.9,437.0 L120.1,434.6 L120.2,432.3 L120.4,429.9 L120.5,427.5 L120.7,425.1 L120.8,422.8 L121.0,420.4 L121.1,418.0 L121.2,420.5 L121.4,423.1 L121.5,425.6 L121.6,428.1 L121.8,430.7 L121.9,433.2 L122.1,435.8 L122.2,438.3 L122.3,440.8 L122.5,443.4 L122.6,445.9 L123.0,443.3 L123.4,440.7 L123.8,438.1 L124.2,435.5 L124.6,432.9 L125.2,430.3 L125.9,427.7 L126.5,425.1 L126.7,427.5 L126.9,429.9 L127.2,432.2 L127.4,434.6 L127.6,437.0 L127.8,439.4 L128.0,436.8 L128.2,434.2 L128.4,431.6 L128.6,429.0 L128.8,426.4 L129.0,423.8 L129.2,421.2 L129.4,418.6 L129.6,416.0 L129.8,413.4 L129.9,416.0 L130.1,418.5 L130.2,421.1 L130.3,423.7 L130.4,426.3 L130.6,428.8 L130.7,431.4 L130.8,434.0 L130.9,436.6 L131.1,439.1 L131.2,441.7 L131.3,444.3 L131.4,446.9 L131.6,449.4 L131.7,452.0 L131.9,449.6 L132.2,447.2 L132.4,444.8 L132.7,442.4 L132.9,440.1 L133.2,437.7 L133.4,435.3 L133.7,432.9 L134.2,430.4 L134.7,428.0 L135.3,425.5 L135.8,423.1 L136.3,420.6 L136.5,423.1 L136.7,425.6 L136.9,428.2 L137.1,430.7 L137.4,433.2 L137.6,435.7 L137.8,438.3 L138.0,440.8 L138.2,443.3 L138.4,440.7 L138.6,438.1 L138.8,435.5 L139.1,432.9 L139.3,430.3 L139.5,427.7 L140.5,425.4 L141.5,423.2 L141.8,425.5 L142.0,427.8 L142.3,430.1 L142.6,432.5 L142.9,434.8 L143.1,437.1 L143.4,439.4 L143.8,441.9 L144.2,444.4 L144.6,447.0 L145.0,449.5 L145.4,452.0 L145.5,449.5 L145.7,447.0 L145.8,444.5 L145.9,442.1 L146.0,439.6 L146.2,437.1 L146.3,434.6 L146.4,432.1 L146.5,429.6 L146.7,427.1 L146.8,424.6 L146.9,422.2 L147.0,419.7 L147.2,417.2 L147.3,414.7 L147.4,417.2 L147.6,419.7 L147.7,422.2 L147.8,424.6 L148.0,427.1 L148.1,429.6 L148.2,432.1 L148.4,434.6 L148.5,437.1 L148.6,439.6 L148.8,442.1 L148.9,444.5 L149.0,447.0 L149.2,449.5 L149.3,452.0 L150.0,449.5 L150.6,447.0 L151.2,444.5 L151.9,442.0 L152.3,439.7 L152.7,437.4 L153.1,435.2 L153.5,432.9 L154.3,430.9 L155.1,429.0 L155.6,431.6 L156.1,434.2 L156.6,436.8 L157.1,439.4 L157.3,437.0 L157.6,434.6 L157.8,432.2 L158.1,429.7 L158.3,427.3 L158.6,424.9 L158.8,422.5 L159.4,424.8 L159.9,427.2 L160.5,429.5 L161.0,431.9 L161.6,434.2 L162.0,436.7 L162.3,439.3 L162.7,441.8 L163.1,444.4 L163.5,446.9 L163.8,449.5 L164.2,452.0 L166.2,452.0 L166.6,449.7 L167.1,447.4 L167.5,445.1 L167.9,442.7 L168.4,440.4 L168.8,438.1 L169.2,440.4 L169.7,442.7 L170.1,445.1 L170.5,447.4 L171.0,449.7 L171.4,452.0 L173.3,452.0 L173.5,449.4 L173.7,446.9 L174.0,444.3 L174.2,441.8 L174.4,439.2 L174.6,436.7 L174.9,434.1 L175.1,431.6 L175.3,429.0 L175.5,426.6 L175.6,424.1 L175.8,421.7 L175.9,419.3 L176.1,416.8 L176.2,414.4 L176.4,412.0 L176.6,409.5 L176.7,407.1 L176.9,404.7 L177.0,402.2 L177.2,399.8 L177.9,402.2 L178.5,404.5 L179.2,406.9 L179.5,404.6 L179.8,402.4 L180.2,400.1 L180.5,397.8 L180.6,400.3 L180.8,402.7 L180.9,405.2 L181.1,407.6 L181.2,410.1 L181.4,412.5 L181.5,415.0 L181.7,417.4 L181.8,419.9 L181.9,417.4 L182.1,414.8 L182.2,412.3 L182.3,409.8 L182.4,407.2 L182.6,404.7 L182.7,402.2 L182.8,399.7 L183.0,397.1 L183.1,394.6 L183.3,397.0 L183.5,399.4 L183.7,401.7 L183.9,404.1 L184.2,406.5 L184.4,408.9 L184.6,411.2 L184.8,413.6 L185.0,416.0 L185.2,418.6 L185.4,421.2 L185.7,423.8 L185.9,426.4 L186.1,429.0 L186.3,431.6 L186.6,434.2 L186.8,436.8 L187.0,439.4 L187.3,436.8 L187.6,434.2 L187.9,431.6 L188.2,429.0 L188.4,426.4 L188.7,423.8 L189.0,421.2 L189.3,418.6 L189.6,416.0 L190.0,413.5 L190.5,411.0 L190.9,408.6 L191.3,406.1 L191.8,403.6 L192.2,401.1 L192.4,403.5 L192.6,405.9 L192.8,408.2 L193.0,410.6 L193.3,413.0 L193.5,415.4 L193.7,417.7 L193.9,420.1 L194.1,422.5 L194.2,425.0 L194.3,427.4 L194.4,429.9 L194.5,432.3 L194.6,434.8 L194.8,437.2 L194.9,439.7 L195.0,442.2 L195.1,444.6 L195.2,447.1 L195.3,449.5 L195.4,452.0 L196.3,452.0 L198.9,452.0 L199.3,449.7 L199.7,447.5 L200.1,445.2 L200.5,443.0 L200.9,440.7 L201.3,443.0 L201.7,445.2 L202.0,447.5 L202.4,449.7 L202.8,452.0 L203.3,449.5 L203.8,447.0 L204.4,444.4 L204.9,441.9 L205.4,439.4 L205.9,441.9 L206.4,444.4 L207.0,447.0 L207.5,449.5 L208.0,452.0 L208.5,449.5 L209.0,447.0 L209.6,444.4 L210.1,441.9 L210.6,439.4 L211.0,441.9 L211.4,444.4 L211.8,447.0 L212.2,449.5 L212.6,452.0 L212.9,449.6 L213.2,447.2 L213.5,444.8 L213.8,442.4 L214.0,439.9 L214.3,437.5 L214.6,435.1 L214.9,432.7 L215.2,430.3 L215.4,432.9 L215.6,435.5 L215.8,438.1 L216.1,440.7 L216.3,443.3 L216.5,445.9 L216.7,443.5 L216.8,441.1 L217.0,438.7 L217.1,436.3 L217.3,433.9 L217.5,431.5 L217.6,429.1 L217.8,426.7 L217.9,424.3 L218.1,421.9 L218.9,424.1 L219.7,426.4 L220.1,429.0 L220.5,431.6 L220.9,434.2 L221.3,436.8 L221.7,439.4 L222.0,441.9 L222.2,444.4 L222.5,447.0 L222.7,449.5 L223.0,452.0 L223.1,449.6 L223.3,447.1 L223.4,444.7 L223.6,442.3 L223.7,439.8 L223.9,437.4 L224.0,435.0 L224.2,432.5 L224.3,430.1 L224.4,427.7 L224.6,425.2 L224.7,422.8 L224.9,420.4 L225.0,417.9 L225.2,415.5 L225.3,413.1 L225.5,410.6 L225.6,408.2 L225.9,410.8 L226.1,413.4 L226.4,416.0 L226.7,418.6 L227.0,421.2 L227.2,423.8 L227.5,426.4 L227.6,429.0 L227.8,431.5 L227.9,434.1 L228.0,436.6 L228.2,439.2 L228.3,441.8 L228.4,444.3 L228.5,446.9 L228.7,449.4 L228.8,452.0 L229.5,449.8 L230.1,447.6 L230.8,445.5 L231.4,443.3 L231.7,440.9 L232.0,438.5 L232.3,436.1 L232.5,433.6 L232.8,431.2 L233.1,428.8 L233.4,426.4 L233.6,429.0 L233.8,431.5 L234.0,434.1 L234.2,436.6 L234.4,439.2 L234.5,441.8 L234.7,444.3 L234.9,446.9 L235.1,449.4 L235.3,452.0 L235.7,449.5 L236.2,446.9 L236.6,444.4 L237.0,441.9 L237.5,439.3 L237.9,436.8 L238.1,434.3 L238.2,431.8 L238.4,429.3 L238.5,426.8 L238.7,424.3 L238.8,421.9 L239.0,419.4 L239.2,416.9 L239.3,414.4 L239.5,411.9 L239.6,409.4 L239.8,406.9 L239.9,404.4 L240.1,401.9 L240.3,399.4 L240.4,397.0 L240.6,394.5 L240.7,392.0 L240.9,389.5 L241.0,387.0 L241.2,384.5 L241.2,387.0 L241.3,389.5 L241.3,392.0 L241.4,394.5 L241.4,397.0 L241.4,399.5 L241.5,402.0 L241.5,404.5 L241.6,407.0 L241.6,409.5 L241.6,412.0 L241.7,414.5 L241.7,417.0 L241.8,419.5 L241.8,422.0 L241.9,424.5 L241.9,427.0 L241.9,429.5 L242.0,432.0 L242.0,434.5 L242.1,437.0 L242.1,439.5 L242.1,442.0 L242.2,444.5 L242.2,447.0 L242.3,449.5 L242.3,452.0 L243.0,450.0 L243.7,447.9 L244.4,445.9 L244.6,443.3 L244.8,440.8 L245.1,438.2 L245.3,435.7 L245.5,433.1 L245.7,430.6 L245.9,428.0 L246.2,425.5 L246.4,422.9 L246.6,420.4 L246.8,417.8 L247.0,415.3 L247.3,412.7 L247.5,410.2 L247.7,407.6 L247.9,410.0 L248.1,412.4 L248.3,414.7 L248.5,417.1 L248.8,419.5 L249.0,421.9 L249.2,424.2 L249.4,426.6 L249.6,429.0 L249.8,426.4 L250.0,423.8 L250.2,421.2 L250.4,418.6 L250.6,416.0 L250.8,413.4 L251.0,410.8 L251.2,408.2 L251.4,405.6 L251.6,403.0 L251.8,405.6 L252.0,408.2 L252.2,410.8 L252.4,413.4 L252.7,416.0 L252.9,418.6 L253.1,421.2 L253.3,423.8 L253.5,426.4 L253.8,424.0 L254.2,421.6 L254.5,419.2 L254.8,416.9 L255.2,414.5 L255.5,412.1 L255.7,414.6 L255.8,417.1 L256.0,419.6 L256.1,422.1 L256.3,424.6 L256.4,427.1 L256.6,429.5 L256.8,432.0 L256.9,434.5 L257.1,437.0 L257.2,439.5 L257.4,442.0 L258.0,444.5 L258.7,447.0 L259.4,449.5 L260.0,452.0 L260.3,449.6 L260.7,447.1 L261.0,444.7 L261.3,442.3 L261.6,439.9 L262.0,437.4 L262.3,435.0 L262.6,432.6 L263.0,430.1 L263.3,427.7 L263.5,430.1 L263.7,432.6 L264.0,435.0 L264.2,437.4 L264.4,439.9 L264.6,442.3 L264.8,444.7 L265.1,447.1 L265.3,449.6 L265.5,452.0 L265.6,449.5 L265.6,447.0 L265.7,444.4 L265.7,441.9 L265.8,439.4 L265.9,436.9 L265.9,434.4 L266.0,431.8 L266.0,429.3 L266.1,426.8 L266.2,424.3 L266.2,421.8 L266.3,419.2 L266.3,416.7 L266.4,414.2 L266.5,411.7 L266.5,409.2 L266.6,406.6 L266.6,404.1 L266.7,401.6 L266.8,399.1 L266.8,396.6 L266.9,394.0 L266.9,391.5 L267.0,389.0 L267.1,386.5 L267.1,384.0 L267.2,381.4 L267.2,378.9 L267.3,376.4 L267.4,373.9 L267.4,371.4 L267.5,368.8 L267.5,366.3 L267.6,363.8 L267.7,361.3 L267.7,358.8 L267.8,356.2 L267.8,353.7 L267.9,351.2 L268.0,348.7 L268.0,346.2 L268.1,343.6 L268.1,341.1 L268.2,338.6 L268.3,336.1 L268.3,333.6 L268.4,331.0 L268.4,328.5 L268.5,326.0 L268.7,328.7 L268.8,331.3 L269.0,334.0 L269.2,336.7 L269.3,339.3 L269.5,342.0 L269.7,339.6 L269.9,337.2 L270.1,334.8 L270.3,332.4 L270.5,330.0 L270.6,332.5 L270.6,335.0 L270.6,337.5 L270.7,340.0 L270.8,342.5 L270.8,345.0 L270.9,347.5 L270.9,350.0 L270.9,352.5 L271.0,355.0 L271.1,357.5 L271.1,360.0 L271.1,362.5 L271.2,365.0 L271.2,367.5 L271.3,370.0 L271.4,372.5 L271.4,375.0 L271.4,377.5 L271.5,380.0 L271.6,382.5 L271.6,385.0 L271.7,387.4 L271.7,389.9 L271.8,392.4 L271.8,394.9 L271.9,397.4 L271.9,399.9 L272.0,402.3 L272.0,404.8 L272.1,407.3 L272.1,409.8 L272.2,412.3 L272.2,414.8 L272.3,417.2 L272.3,419.7 L272.4,422.2 L272.4,424.7 L272.5,427.2 L272.5,429.7 L272.6,432.1 L272.6,434.6 L272.7,437.1 L272.7,439.6 L272.8,442.1 L272.8,444.6 L272.9,447.0 L272.9,449.5 L273.0,452.0 L275.0,452.0 L275.2,449.5 L275.4,447.1 L275.5,444.6 L275.7,442.2 L275.9,439.7 L276.1,437.3 L276.3,434.8 L276.5,432.4 L276.6,429.9 L276.8,427.5 L277.0,425.0 L277.3,427.6 L277.6,430.1 L277.9,432.7 L278.1,435.3 L278.4,437.9 L278.7,440.4 L279.0,443.0 L279.7,440.3 L280.3,437.7 L281.0,435.0 L281.3,437.4 L281.6,439.9 L281.9,442.3 L282.1,444.7 L282.4,447.1 L282.7,449.6 L283.0,452.0 L283.1,449.5 L283.3,447.1 L283.4,444.6 L283.5,442.1 L283.7,439.7 L283.8,437.2 L283.9,434.7 L284.1,432.3 L284.2,429.8 L284.3,427.3 L284.5,424.9 L284.6,422.4 L284.7,419.9 L284.9,417.5 L285.0,415.0 L285.2,417.5 L285.5,420.0 L285.8,422.5 L286.0,425.0 L286.2,427.5 L286.5,430.0 L286.8,432.5 L287.0,435.0 L287.1,432.5 L287.2,430.0 L287.3,427.5 L287.4,425.0 L287.4,422.5 L287.5,420.0 L287.6,417.5 L287.7,415.0 L287.8,412.5 L287.9,410.0 L288.0,407.5 L288.0,405.0 L288.1,402.5 L288.2,400.0 L288.3,397.5 L288.4,395.0 L288.6,397.6 L288.7,400.2 L288.9,402.8 L289.0,405.4 L289.2,408.0 L289.4,410.6 L289.5,413.2 L289.7,415.8 L289.8,418.4 L290.0,421.0 L290.1,418.5 L290.2,416.1 L290.3,413.6 L290.4,411.2 L290.5,408.7 L290.5,406.3 L290.6,403.8 L290.7,401.4 L290.8,398.9 L290.9,396.5 L291.0,394.0 L291.1,391.5 L291.2,389.1 L291.3,386.6 L291.4,384.2 L291.5,381.7 L291.5,379.3 L291.6,376.8 L291.7,374.4 L291.8,371.9 L291.9,369.5 L292.0,367.0 L292.1,369.5 L292.1,372.0 L292.2,374.5 L292.2,377.0 L292.3,379.5 L292.4,382.0 L292.4,384.5 L292.5,387.0 L292.5,389.5 L292.6,392.0 L292.6,394.5 L292.7,397.0 L292.8,399.5 L292.8,402.0 L292.9,404.5 L292.9,407.0 L293.0,409.5 L293.1,412.0 L293.1,414.5 L293.2,417.0 L293.2,419.5 L293.3,422.0 L293.4,424.5 L293.4,427.0 L293.5,429.5 L293.5,432.0 L293.6,434.5 L293.6,437.0 L293.7,439.5 L293.8,442.0 L293.8,444.5 L293.9,447.0 L293.9,449.5 L294.0,452.0 L294.2,449.4 L294.5,446.8 L294.8,444.1 L295.0,441.5 L295.2,438.9 L295.5,436.2 L295.8,433.6 L296.0,431.0 L296.2,428.6 L296.3,426.1 L296.5,423.7 L296.7,421.2 L296.8,418.8 L297.0,416.3 L297.2,413.9 L297.3,411.4 L297.5,409.0 L297.7,406.6 L297.8,404.1 L298.0,401.7 L298.2,399.2 L298.3,396.8 L298.5,394.3 L298.7,391.9 L298.8,389.4 L299.0,387.0 L299.1,389.5 L299.2,392.0 L299.2,394.5 L299.3,397.0 L299.4,399.5 L299.5,402.0 L299.5,404.5 L299.6,407.0 L299.7,409.5 L299.8,412.0 L299.8,414.5 L299.9,417.0 L300.0,419.5 L300.1,422.0 L300.2,424.5 L300.2,427.0 L300.3,429.5 L300.4,432.0 L300.5,434.5 L300.5,437.0 L300.6,439.5 L300.7,442.0 L300.8,444.5 L300.8,447.0 L300.9,449.5 L301.0,452.0 L301.0,449.5 L301.1,447.0 L301.1,444.5 L301.1,442.1 L301.2,439.6 L301.2,437.1 L301.2,434.6 L301.3,432.1 L301.3,429.6 L301.3,427.2 L301.4,424.7 L301.4,422.2 L301.4,419.7 L301.5,417.2 L301.5,414.7 L301.5,412.3 L301.5,409.8 L301.6,407.3 L301.6,404.8 L301.6,402.3 L301.7,399.8 L301.7,397.4 L301.7,394.9 L301.8,392.4 L301.8,389.9 L301.8,387.4 L301.9,384.9 L301.9,382.5 L301.9,380.0 L302.0,377.5 L302.0,375.0 L302.1,377.5 L302.2,380.0 L302.4,382.5 L302.5,385.0 L302.6,387.5 L302.8,390.0 L302.9,392.5 L303.0,395.0 L303.1,397.5 L303.2,400.0 L303.4,402.5 L303.5,405.0 L303.6,407.5 L303.8,410.0 L303.9,412.5 L304.0,415.0 L304.1,412.5 L304.2,410.1 L304.2,407.6 L304.3,405.2 L304.4,402.7 L304.5,400.2 L304.5,397.8 L304.6,395.3 L304.7,392.8 L304.8,390.4 L304.8,387.9 L304.9,385.5 L305.0,383.0 L305.4,385.5 L305.8,388.0 L306.1,390.5 L306.5,393.0 L306.9,395.5 L307.2,398.0 L307.6,400.5 L308.0,403.0 L308.1,405.4 L308.2,407.9 L308.3,410.4 L308.4,412.8 L308.5,415.2 L308.6,417.7 L308.7,420.1 L308.8,422.6 L308.9,425.1 L309.0,427.5 L309.1,429.9 L309.2,432.4 L309.3,434.9 L309.4,437.3 L309.5,439.8 L309.6,442.2 L309.7,444.6 L309.8,447.1 L309.9,449.6 L310.0,452.0 L310.1,449.5 L310.1,447.0 L310.2,444.6 L310.3,442.1 L310.4,439.6 L310.4,437.1 L310.5,434.6 L310.6,432.1 L310.7,429.7 L310.7,427.2 L310.8,424.7 L310.9,422.2 L311.0,419.7 L311.0,417.3 L311.1,414.8 L311.2,412.3 L311.3,409.8 L311.3,407.3 L311.4,404.9 L311.5,402.4 L311.6,399.9 L311.6,397.4 L311.7,394.9 L311.8,392.4 L311.9,390.0 L311.9,387.5 L312.0,385.0 L312.1,387.5 L312.2,390.0 L312.3,392.5 L312.4,395.0 L312.5,397.5 L312.6,400.0 L312.7,402.5 L312.8,405.0 L312.9,407.5 L313.0,410.0 L313.1,407.5 L313.1,405.1 L313.2,402.6 L313.3,400.1 L313.3,397.7 L313.4,395.2 L313.5,392.7 L313.5,390.3 L313.6,387.8 L313.7,385.3 L313.7,382.9 L313.8,380.4 L313.9,377.9 L313.9,375.5 L314.0,373.0 L314.1,375.4 L314.2,377.9 L314.3,380.3 L314.4,382.8 L314.6,385.2 L314.7,387.7 L314.8,390.1 L314.9,392.6 L315.0,395.0 L315.1,392.5 L315.1,389.9 L315.2,387.4 L315.3,384.9 L315.4,382.4 L315.4,379.9 L315.5,377.3 L315.6,374.8 L315.7,372.3 L315.8,369.8 L315.8,367.2 L315.9,364.7 L316.0,362.2 L316.1,359.7 L316.1,357.1 L316.2,354.6 L316.3,357.1 L316.3,359.7 L316.4,362.2 L316.5,364.7 L316.5,367.3 L316.6,369.8 L316.7,372.3 L316.7,374.9 L316.8,377.4 L316.9,379.9 L316.9,382.5 L317.0,385.0 L317.1,382.5 L317.2,380.0 L317.3,377.5 L317.4,375.0 L317.5,372.5 L317.6,370.0 L317.7,367.5 L317.8,365.0 L317.9,362.5 L317.9,360.1 L318.0,357.6 L318.1,355.1 L318.2,352.6 L318.3,350.1 L318.4,347.6 L318.5,345.1 L318.6,342.6 L318.7,340.1 L318.8,337.6 L318.8,340.1 L318.9,342.6 L318.9,345.1 L319.0,347.6 L319.0,350.1 L319.1,352.5 L319.1,355.0 L319.2,357.5 L319.2,360.0 L319.3,362.5 L319.3,365.0 L319.3,362.5 L319.4,360.1 L319.4,357.6 L319.5,355.1 L319.5,352.7 L319.5,350.2 L319.6,347.7 L319.6,345.3 L319.6,342.8 L319.7,340.3 L319.7,337.9 L319.8,335.4 L319.8,332.9 L319.8,330.5 L319.9,328.0 L319.9,325.5 L320.0,323.1 L320.0,320.6 L320.1,318.1 L320.2,315.6 L320.3,313.1 L320.4,310.7 L320.5,308.2 L320.6,305.7 L320.7,303.2 L320.8,300.7 L320.9,298.2 L321.0,295.7 L321.2,293.3 L321.3,290.8 L321.4,288.3 L321.5,285.8 L321.6,283.3 L321.7,280.8 L321.8,278.3 L321.9,275.9 L322.0,273.4 L322.1,270.9 L322.2,268.4 L322.3,271.0 L322.3,273.5 L322.4,276.1 L322.4,278.7 L322.5,281.3 L322.5,283.8 L322.6,286.4 L322.6,289.0 L322.7,291.6 L322.7,294.1 L322.8,296.7 L322.8,299.3 L322.9,301.9 L322.9,304.4 L323.0,307.0 L323.1,309.5 L323.2,312.1 L323.4,314.6 L323.5,317.2 L323.6,319.7 L323.7,322.2 L323.9,324.8 L324.0,327.3 L324.1,329.8 L324.2,332.4 L324.4,334.9 L324.5,337.5 L324.6,340.0 L324.9,337.3 L325.2,334.7 L325.5,332.0 L325.8,329.3 L326.1,326.7 L326.4,324.0 L326.5,321.6 L326.6,319.1 L326.8,316.7 L326.9,314.3 L327.0,311.9 L327.1,309.4 L327.2,307.0 L327.4,304.6 L327.5,302.1 L327.6,299.7 L327.7,297.3 L327.9,294.9 L328.0,292.4 L328.1,290.0 L328.3,287.6 L328.5,285.2 L328.7,282.8 L328.9,280.4 L329.1,278.0 L329.4,275.6 L329.6,273.2 L329.8,270.8 L330.0,268.4 L330.2,266.0 L330.3,263.5 L330.3,261.0 L330.4,258.4 L330.4,255.9 L330.5,253.4 L330.6,250.9 L330.6,248.4 L330.7,245.9 L330.8,243.3 L330.8,240.8 L330.9,238.3 L330.9,235.8 L331.0,233.3 L331.1,230.8 L331.1,228.2 L331.2,225.7 L331.3,223.2 L331.3,220.7 L331.4,218.2 L331.4,215.7 L331.5,213.1 L331.6,210.6 L331.6,208.1 L331.7,205.6 L331.8,203.1 L331.8,200.6 L331.9,198.0 L331.9,195.5 L332.0,193.0 L332.1,195.5 L332.1,198.0 L332.2,200.4 L332.2,202.9 L332.3,205.4 L332.3,207.9 L332.4,210.4 L332.4,212.9 L332.5,215.3 L332.6,217.8 L332.6,220.3 L332.7,222.8 L332.7,225.3 L332.8,227.7 L332.8,230.2 L332.9,232.7 L332.9,235.2 L333.0,237.7 L333.1,240.1 L333.1,242.6 L333.2,245.1 L333.2,247.6 L333.3,250.1 L333.3,252.6 L333.4,255.0 L333.4,257.5 L333.5,260.0 L333.9,262.7 L334.2,265.4 L334.6,268.1 L335.0,270.8 L335.3,273.3 L335.7,275.8 L336.0,278.3 L336.4,280.9 L336.7,283.4 L337.1,285.9 L337.4,288.4 L337.6,285.9 L337.7,283.4 L337.9,280.9 L338.1,278.3 L338.3,275.8 L338.4,273.3 L338.6,270.8 L338.8,268.3 L338.9,265.8 L339.1,263.3 L339.3,260.7 L339.5,258.2 L339.6,255.7 L339.8,253.2 L340.0,255.8 L340.4,259.6 L340.1,259.8 L340.7,264.4 L340.6,266.6 L341.0,269.0 L340.9,271.5 L341.2,273.7 L341.8,277.0 L341.7,280.2 L341.7,281.5 L341.7,283.0 L342.2,286.8 L342.3,284.3 L342.8,281.7 L342.8,279.7 L342.7,276.5 L343.0,274.3 L343.7,272.4 L343.4,270.5 L344.0,268.6 L344.2,265.8 L344.4,263.5 L344.7,260.0 L344.6,258.0 L344.9,256.5 L345.8,253.3 L346.2,250.0 L346.3,247.3 L346.6,244.9 L346.6,242.3 L346.7,239.4 L346.5,238.3 L346.8,234.8 L346.6,232.7 L346.5,228.8 L346.5,227.5 L346.6,225.5 L346.7,223.0 L347.0,220.5 L346.9,216.8 L347.0,214.6 L346.9,211.2 L347.3,209.1 L346.9,206.9 L347.2,204.0 L347.5,202.2 L347.3,199.7 L347.3,196.6 L347.6,193.7 L348.1,190.0 L348.0,188.0 L348.1,184.4 L347.9,183.8 L348.4,179.6 L348.3,177.6 L348.1,174.0 L348.4,171.9 L348.6,169.1 L348.5,166.4 L348.2,163.8 L348.2,163.3 L348.6,159.2 L348.2,157.1 L348.3,156.2 L348.5,151.1 L348.8,150.1 L348.6,146.2 L348.7,143.5 L348.9,142.8 L348.8,139.6 L349.0,143.1 L349.1,145.4 L348.9,146.9 L349.0,149.8 L349.2,150.8 L349.1,155.2 L349.4,156.9 L349.3,159.2 L349.5,162.8 L349.6,164.3 L349.8,165.2 L349.6,168.0 L349.8,170.2 L350.1,172.8 L350.4,176.3 L350.5,179.8 L350.3,180.5 L350.4,183.6 L350.5,180.5 L350.8,179.0 L350.5,176.8 L350.8,173.6 L350.6,170.0 L350.7,168.6 L350.9,167.0 L350.9,162.9 L351.0,160.8 L351.3,159.1 L351.5,156.1 L351.7,153.3 L351.7,152.8 L351.7,149.0 L351.5,146.9 L351.8,144.0 L351.7,141.0 L351.9,140.1 L352.3,136.9 L352.1,134.7 L352.2,133.2 L352.5,128.2 L352.3,126.0 L352.6,125.5 L352.6,120.9 L352.7,119.4 L352.8,117.2 L353.0,119.0 L352.9,121.1 L353.4,124.5 L353.5,126.2 L353.5,129.0 L353.5,132.1 L353.6,135.6 L353.6,136.4 L354.2,138.9 L354.4,142.8 L353.9,145.5 L354.5,147.9 L354.5,150.6 L354.6,152.2 L354.6,155.9 L354.8,157.7 L355.2,161.4 L355.3,163.8 L355.1,164.7 L355.2,167.7 L355.6,170.1 L355.7,173.9 L355.5,176.2 L356.2,177.5 L356.0,180.4 L356.3,176.9 L356.4,174.2 L357.2,173.8 L357.0,170.6 L357.4,167.1 L358.0,165.5 L358.2,162.4 L358.5,160.0 L358.8,156.6 L359.2,156.3 L359.3,151.7 L359.4,150.8 L359.8,148.9 L360.0,145.9 L360.5,144.3 L360.4,140.7 L360.5,137.9 L361.3,135.9 L361.3,132.4 L361.6,130.8 L361.8,133.3 L362.3,136.4 L362.3,138.9 L362.4,142.1 L362.8,144.0 L363.2,146.6 L363.2,148.4 L363.4,150.1 L363.5,153.0 L363.7,156.9 L363.7,156.9 L364.0,161.1 L364.1,163.4 L364.3,164.2 L364.2,168.4 L364.5,171.3 L364.6,171.7 L364.4,175.8 L364.7,178.2 L364.8,180.0 L365.2,181.9 L365.4,184.4 L365.5,187.8 L365.8,190.8 L366.4,192.6 L366.4,196.0 L367.3,197.3 L368.8,200.8 L369.8,203.2 L370.6,206.0 L371.2,208.0 L371.7,210.2 L371.9,212.1 L372.1,214.8 L373.0,216.0 L373.4,218.5 L373.6,221.6 L374.1,224.7 L375.0,226.9 L375.2,229.7 L376.0,231.2 L376.1,232.5 L376.3,235.5 L376.6,236.5 L376.8,240.0 L377.3,243.6 L377.8,244.9 L378.4,247.2 L378.7,249.7 L378.7,251.9 L378.8,255.0 L378.6,258.7 L378.8,261.0 L379.2,263.2 L379.1,265.8 L379.0,268.9 L379.4,270.6 L380.0,273.2 L381.0,275.1 L381.5,278.0 L382.0,279.0 L382.8,281.7 L382.7,279.1 L383.3,276.2 L383.3,273.3 L383.1,271.6 L383.0,269.0 L383.2,266.9 L383.4,264.4 L383.6,262.1 L384.5,265.7 L385.0,267.0 L385.4,270.9 L386.2,272.3 L386.1,268.8 L386.5,266.6 L386.4,264.7 L386.4,263.3 L386.8,260.9 L387.0,257.4 L387.1,254.8 L387.0,252.8 L387.2,256.3 L387.7,258.2 L387.8,260.7 L388.1,263.5 L388.3,265.6 L388.3,266.9 L388.4,270.3 L388.7,272.3 L388.7,269.5 L389.0,268.4 L389.5,264.6 L389.8,261.3 L389.4,258.6 L389.8,256.6 L390.3,255.6 L390.3,252.6 L390.3,249.5 L390.6,247.7 L391.0,243.7 L391.0,240.8 L391.3,239.2 L391.2,242.9 L391.4,243.4 L391.7,246.2 L391.8,248.7 L391.9,251.3 L392.1,254.8 L392.5,256.7 L392.3,258.4 L392.6,263.0 L392.6,265.4 L393.0,267.2 L393.7,264.7 L394.2,261.7 L394.4,259.9 L394.9,258.3 L395.5,254.5 L395.7,256.9 L395.9,258.9 L395.9,262.1 L396.2,264.3 L396.3,267.9 L396.1,269.0 L396.0,271.6 L396.7,272.9 L396.8,275.4 L396.9,279.3 L396.6,280.2 L396.6,284.5 L396.9,285.1 L396.9,287.7 L397.2,291.0 L397.4,293.7 L398.2,296.8 L398.7,296.6 L398.9,299.4 L399.1,302.5 L399.8,304.6 L399.8,302.2 L400.5,299.0 L400.5,298.2 L401.0,295.4 L401.0,291.5 L401.0,289.1 L401.5,287.6 L401.5,289.0 L401.7,291.2 L402.1,294.4 L402.4,298.1 L402.4,300.1 L402.3,303.0 L402.9,303.2 L402.7,307.0 L402.9,308.7 L403.2,311.4 L403.3,308.7 L403.7,306.0 L403.8,304.6 L403.8,301.1 L404.4,299.3 L404.4,295.4 L404.5,294.1 L404.7,289.8 L404.6,287.7 L405.1,286.1 L405.3,283.7 L405.3,281.3 L405.7,277.1 L405.7,275.7 L406.2,278.9 L405.9,280.7 L406.2,282.0 L406.8,285.6 L407.3,286.8 L407.5,291.2 L407.4,292.3 L408.0,294.0 L407.9,297.6 L408.3,299.5 L408.8,303.0 L409.1,304.1 L409.5,307.4 L409.7,309.6 L410.2,312.2 L410.6,315.1 L411.2,316.5 L411.7,313.7 L412.2,311.5 L412.4,310.5 L413.2,307.7 L413.5,305.3 L413.9,302.1 L414.3,299.8 L414.9,296.7 L415.4,294.3 L415.9,292.7 L416.0,295.3 L416.4,296.7 L416.4,300.9 L416.9,302.6 L417.1,305.7 L417.0,306.7 L417.3,310.4 L417.9,310.7 L417.7,313.6 L417.9,316.3 L418.2,319.8 L418.5,321.6 L419.0,324.0 L419.3,327.6 L419.9,329.5 L420.7,330.9 L420.9,334.0 L421.9,337.1 L422.2,339.8 L422.7,342.0 L423.4,345.2 L423.6,346.0 L424.4,350.6 L424.8,351.1 L425.2,355.3 L425.6,357.3 L426.1,359.2 L426.1,356.0 L426.6,353.0 L426.8,350.6 L426.9,348.7 L427.1,347.7 L427.3,343.8 L427.4,340.6 L427.8,338.8 L428.3,336.4 L428.7,332.8 L428.5,331.8 L429.0,329.4 L429.2,326.5 L429.8,324.0 L430.1,322.2 L430.4,319.0 L430.8,322.1 L430.7,323.4 L431.1,326.7 L431.5,328.4 L432.0,332.0 L432.5,334.8 L432.6,336.0 L433.0,338.5 L433.0,342.0 L433.6,344.2 L433.8,347.3 L434.3,349.8 L434.2,352.0 L434.6,356.0 L435.0,356.5 L435.3,359.7 L435.5,363.0 L435.6,366.2 L435.5,368.9 L436.3,369.8 L436.3,372.8 L436.7,373.9 L437.0,378.8 L436.9,380.8 L437.5,382.4 L437.7,384.5 L438.0,387.0 L438.1,390.1 L438.7,390.5 L439.2,395.2 L439.2,396.8 L439.3,399.7 L440.1,400.4 L440.2,404.4 L440.6,405.7 L440.8,404.4 L441.2,401.3 L441.7,398.0 L442.2,395.1 L442.6,394.0 L442.9,392.1 L443.6,389.4 L444.0,387.0 L444.4,389.2 L444.2,391.0 L444.3,394.3 L444.6,398.2 L444.6,399.5 L445.1,401.7 L445.0,405.2 L445.1,406.0 L445.1,408.4 L445.4,410.6 L445.5,415.6 L445.4,417.0 L445.7,419.3 L446.0,421.5 L446.2,423.8 L446.8,425.6 L447.1,429.8 L447.0,431.3 L447.8,432.8 L447.9,436.9 L448.2,438.0 L448.6,440.5 L448.9,442.0 L449.3,444.6 L449.4,447.2 L449.6,449.8 L449.9,452.0 L450.3,449.4 L450.1,447.7 L450.5,444.5 L450.5,442.7 L450.3,440.7 L450.7,437.3 L451.0,434.4 L450.8,433.3 L451.1,429.9 L451.0,427.6 L451.1,425.4 L451.4,421.2 L451.4,420.0 L451.8,417.1 L451.6,415.4 L451.8,413.2 L452.0,409.4 L452.3,407.9 L452.2,405.1 L452.0,401.9 L452.2,399.6 L452.5,397.2 L452.6,400.8 L452.9,402.5 L453.2,403.8 L452.9,406.7 L453.2,409.9 L453.4,413.2 L453.3,413.6 L453.7,415.9 L453.6,420.2 L454.0,421.7 L454.5,425.6 L454.4,428.1 L454.3,429.8 L454.5,432.4 L455.0,434.1 L455.1,437.2 L455.0,439.5 L455.3,442.0 L455.6,443.9 L455.4,448.3 L455.9,448.8 L455.9,452.0 L455.9,450.0 L456.1,447.2 L456.4,445.4 L456.3,441.9 L456.7,439.1 L456.6,436.5 L457.1,433.5 L457.3,432.9 L457.5,429.6 L457.3,425.8 L457.3,424.7 L457.9,420.6 L457.7,418.4 L458.3,416.3 L458.4,412.8 L458.4,411.1 L458.3,409.0 L458.5,407.7 L459.1,404.8 L459.3,401.3 L458.9,397.8 L459.3,396.4 L459.2,393.8 L459.7,392.1 L459.7,389.6 L460.2,385.0 L460.1,382.9 L460.4,380.2 L460.3,378.5 L460.6,374.9 L460.6,374.3 L461.1,370.3 L461.4,368.8 L461.5,366.3 L461.8,362.5 L461.5,359.6 L462.0,357.3 L462.3,355.8 L462.5,354.5 L462.3,351.0 L462.7,349.3 L462.7,345.6 L463.1,342.4 L463.1,339.5 L463.9,338.7 L464.3,336.8 L464.6,332.5 L464.9,332.3 L465.2,328.6 L465.2,331.1 L465.6,332.5 L465.4,337.3 L466.0,339.5 L466.1,340.8 L466.0,342.8 L466.5,346.4 L466.1,348.8 L466.6,352.3 L466.5,354.5 L466.6,355.8 L466.9,357.9 L467.2,361.0 L467.2,364.6 L467.5,367.4 L467.4,368.4 L467.8,372.5 L468.0,372.6 L468.0,376.0 L468.0,379.6 L468.3,380.8 L468.2,384.9 L468.6,386.4 L468.9,384.8 L469.0,380.6 L469.2,379.3 L469.1,376.6 L469.2,374.0 L469.5,371.4 L469.5,368.1 L469.8,366.2 L470.1,364.3 L470.2,361.0 L470.1,358.8 L470.7,355.8 L470.8,355.4 L470.6,350.9 L470.8,348.3 L470.8,346.6 L471.3,344.2 L471.2,342.8 L471.7,338.1 L471.6,336.6 L471.7,333.6 L472.0,332.0 L472.3,329.0 L472.9,326.4 L473.2,325.5 L473.7,322.1 L474.3,320.7 L474.4,318.7 L475.0,315.0 L475.0,313.3 L475.2,310.3 L475.1,307.8 L475.0,304.1 L475.6,303.8 L475.2,300.1 L475.6,298.7 L475.7,295.3 L475.5,292.0 L475.9,291.2 L475.8,289.2 L476.2,286.7 L476.3,283.1 L475.9,279.7 L476.0,278.9 L476.4,275.7 L476.2,273.7 L476.2,271.5 L476.7,268.5 L476.5,266.0 L476.8,264.7 L477.0,261.7 L476.9,259.6 L476.9,256.0 L476.9,254.3 L476.8,250.2 L476.7,247.7 L477.0,246.1 L476.8,244.3 L476.9,241.4 L477.0,237.6 L477.2,236.7 L477.0,232.9 L477.1,229.2 L477.2,229.0 L477.5,225.7 L477.2,221.5 L477.2,219.9 L477.5,217.3 L477.4,215.0 L477.5,211.6 L477.5,209.6 L477.6,206.9 L477.7,205.1 L477.5,204.1 L477.4,199.3 L477.6,199.3 L477.5,196.3 L477.8,194.4 L477.6,191.1 L477.3,187.4 L477.6,186.0 L477.7,182.7 L477.8,181.9 L477.4,179.5 L477.5,174.7 L477.7,172.2 L477.9,172.1 L477.8,167.4 L477.8,166.4 L477.6,163.2 L478.0,161.9 L477.8,159.0 L477.6,154.7 L477.6,152.7 L477.9,150.1 L477.6,148.8 L477.5,146.9 L477.9,144.5 L477.7,141.2 L478.1,138.8 L477.6,135.0 L477.7,134.0 L477.9,129.8 L477.7,127.5 L477.7,125.2 L478.0,124.1 L477.8,121.1 L478.2,119.0 L477.7,117.0 L477.7,112.7 L478.1,110.6 L478.0,108.2 L478.1,110.9 L478.5,114.2 L478.6,116.7 L478.6,118.2 L479.2,120.3 L479.4,121.9 L479.5,125.0 L479.5,126.6 L479.6,130.4 L479.4,131.7 L479.8,134.8 L479.5,137.5 L479.6,139.8 L479.8,141.8 L479.7,145.3 L480.1,146.6 L479.7,149.2 L480.1,152.4 L480.2,156.6 L480.2,157.3 L479.9,159.4 L480.2,162.1 L480.2,165.9 L480.4,169.4 L480.1,171.4 L480.5,174.4 L480.1,176.7 L480.4,178.9 L480.3,181.0 L480.6,184.2 L480.5,186.0 L480.6,184.1 L480.6,181.5 L480.8,178.8 L481.0,174.4 L481.7,173.5 L481.7,170.5 L481.8,168.0 L482.1,165.7 L482.2,164.2 L481.8,160.0 L482.0,158.9 L482.4,156.0 L482.1,151.9 L482.6,150.1 L482.7,148.6 L482.6,144.6 L482.5,143.6 L482.5,140.4 L482.7,138.5 L482.9,135.0 L483.1,132.1 L483.0,130.0 L483.0,127.4 L483.3,125.6 L483.4,123.0 L483.2,120.8 L483.6,117.9 L483.5,113.8 L483.5,112.6 L483.5,109.0 L483.9,108.1 L483.9,106.3 L484.0,103.5 L484.0,99.1 L484.1,98.5 L484.2,94.4 L484.1,92.2 L484.2,90.0 L484.4,88.1 L484.5,84.1 L484.3,81.5 L484.8,81.0 L484.8,77.1 L484.7,74.4 L484.5,72.4 L484.9,70.1 L484.7,68.8 L484.7,64.8 L485.0,62.2 L485.5,61.3 L485.3,58.0 L485.3,59.7 L485.4,63.0 L485.7,66.6 L485.4,66.7 L485.6,70.5 L485.8,73.0 L485.6,74.3 L485.5,78.7 L485.8,79.5 L485.8,81.9 L485.6,84.3 L486.0,87.3 L486.0,90.5 L485.9,93.1 L486.1,96.4 L485.8,98.0 L486.2,99.5 L486.3,103.8 L486.4,104.0 L486.3,106.9 L486.0,109.3 L486.3,113.3 L486.5,115.3 L486.4,117.8 L486.5,120.0 L486.6,122.0 L486.5,124.3 L486.6,128.3 L486.9,130.6 L487.1,132.4 L486.7,134.6 L487.2,138.4 L487.4,140.6 L487.2,142.3 L487.5,145.3 L487.5,146.9 L487.3,151.2 L487.4,151.2 L487.5,155.4 L487.5,158.7 L487.8,160.0 L487.8,158.5 L488.0,156.0 L488.3,151.3 L488.6,149.3 L488.3,148.1 L488.6,144.6 L488.6,142.8 L488.9,139.7 L489.0,137.0 L489.1,139.7 L489.2,141.7 L489.6,144.0 L489.2,146.8 L489.7,148.9 L489.4,152.1 L489.8,153.8 L489.8,157.4 L490.2,160.0 L490.1,160.1 L490.3,163.9 L490.2,167.3 L490.2,169.5 L490.4,172.0 L490.9,172.3 L490.8,176.0 L491.0,174.6 L490.9,171.6 L491.2,167.6 L491.1,166.5 L491.2,162.8 L491.6,159.9 L491.2,156.6 L491.8,154.5 L491.9,152.9 L492.0,150.7 L491.6,147.8 L492.0,145.0 L492.0,146.5 L492.1,149.2 L492.6,152.2 L492.5,156.5 L492.4,157.7 L492.6,159.4 L492.7,162.2 L492.7,166.5 L493.1,168.8 L493.0,171.9 L493.3,172.7 L493.2,176.0 L493.3,178.5 L493.8,181.5 L493.7,184.8 L494.0,186.0 L494.0,188.0 L494.1,190.6 L494.5,194.8 L494.3,195.1 L495.0,198.0 L495.0,201.0 L495.0,204.0 L495.2,205.6 L495.5,209.8 L496.1,210.9 L496.6,212.8 L496.6,216.5 L497.1,217.4 L497.5,220.2 L497.9,222.6 L498.1,225.8 L498.4,228.7 L498.8,228.8 L498.9,232.5 L499.5,235.9 L499.6,237.4 L500.1,239.8 L500.2,241.4 L500.6,245.3 L500.4,247.9 L501.0,250.7 L501.1,253.0 L501.5,256.0 L501.4,257.8 L501.8,260.3 L501.8,262.7 L502.1,260.7 L502.2,257.2 L502.4,254.6 L502.5,251.5 L502.9,250.9 L503.1,247.7 L502.8,244.5 L503.1,243.0 L503.5,240.1 L503.8,238.5 L503.8,234.9 L504.1,233.2 L504.1,230.6 L504.3,227.9 L504.1,231.1 L504.4,233.5 L504.8,234.3 L504.7,237.4 L504.7,238.9 L504.8,241.8 L505.0,245.3 L505.3,246.9 L505.7,250.2 L505.4,252.4 L505.8,253.5 L506.0,256.5 L506.0,259.3 L506.3,261.0 L506.3,263.9 L506.8,265.9 L506.8,269.2 L506.7,272.6 L507.1,274.3 L507.6,276.0 L507.5,278.5 L507.6,281.5 L507.7,283.7 L508.3,286.6 L508.7,290.4 L508.6,291.6 L509.0,288.7 L508.6,285.6 L509.0,284.2 L508.7,281.8 L509.0,278.8 L509.3,276.3 L509.0,274.7 L509.4,271.5 L509.5,269.8 L509.6,267.8 L509.8,263.8 L509.7,261.8 L509.9,259.3 L509.8,257.1 L509.9,254.8 L510.3,252.1 L509.9,249.1 L510.0,247.6 L510.3,244.0 L510.2,240.7 L510.6,238.6 L510.6,237.1 L511.2,233.4 L511.1,229.9 L511.5,227.7 L511.3,225.5 L511.6,222.4 L511.7,221.4 L511.9,217.1 L512.4,214.5 L512.5,213.8 L512.3,210.1 L512.8,208.0 L512.8,210.9 L513.3,212.9 L513.3,214.4 L513.3,217.3 L513.5,219.6 L513.2,222.3 L513.4,225.5 L513.7,227.0 L515.4,228.7 L515.5,230.7 L515.7,233.7 L515.6,234.8 L515.7,238.5 L516.0,239.9 L516.0,244.2 L515.8,245.5 L516.2,247.7 L516.1,249.6 L516.2,252.5 L516.4,254.9 L516.6,258.0 L517.2,261.3 L517.0,262.3 L517.7,264.2 L517.8,268.0 L517.9,270.0 L518.6,271.2 L518.8,274.6 L519.2,276.4 L519.3,279.4 L519.5,282.0 L519.4,284.0 L519.5,286.6 L520.2,290.3 L520.4,291.4 L520.1,294.8 L520.4,296.7 L520.7,300.5 L521.0,301.8 L521.2,305.1 L521.7,308.5 L521.8,310.5 L522.4,312.8 L522.5,315.2 L522.9,318.0 L523.3,319.2 L523.7,320.6 L523.8,323.7 L523.4,325.9 L523.9,329.2 L524.0,332.1 L524.2,333.7 L524.0,336.6 L524.3,339.3 L524.3,341.7 L524.5,343.4 L524.5,347.0 L524.8,348.8 L525.0,351.5 L524.9,350.0 L525.5,346.6 L525.7,343.8 L525.6,341.0 L525.6,338.6 L526.1,335.5 L526.3,334.6 L526.0,331.7 L526.7,329.7 L526.4,326.9 L526.7,324.3 L527.1,326.8 L527.1,330.0 L527.0,332.2 L527.1,333.1 L527.6,336.3 L528.0,337.6 L528.1,341.4 L528.3,344.9 L528.4,346.8 L528.6,348.7 L528.5,351.7 L528.6,354.2 L529.3,356.0 L529.2,358.3 L529.6,355.0 L529.7,353.2 L529.5,349.7 L530.0,347.5 L530.2,346.6 L530.2,343.1 L530.6,340.5 L530.6,338.9 L530.8,335.8 L530.8,332.2 L531.3,330.0 L531.4,327.7 L531.6,325.9 L531.8,322.6 L532.0,325.6 L532.1,328.9 L532.6,330.1 L532.8,332.3 L532.6,334.9 L533.1,338.0 L533.1,339.9 L533.5,344.3 L533.6,346.1 L533.8,348.2 L534.3,349.8 L534.3,353.2 L534.2,351.2 L534.4,348.0 L534.5,344.6 L534.6,344.6 L534.3,340.7 L534.6,338.5 L534.8,336.4 L534.4,332.8 L534.7,332.1 L534.7,329.5 L534.8,327.0 L534.8,324.1 L534.9,322.2 L534.8,319.8 L534.7,315.3 L534.9,313.5 L534.9,311.6 L534.9,309.9 L535.0,304.9 L534.9,304.1 L534.9,301.9 L535.1,299.8 L535.2,297.5 L535.0,294.4 L535.5,292.3 L535.3,287.9 L535.5,285.5 L535.6,284.8 L535.3,282.1 L535.2,279.3 L535.5,275.5 L535.4,274.6 L535.3,270.3 L535.5,268.6 L535.7,267.6 L535.8,265.1 L535.8,262.1 L535.9,258.4 L535.8,256.9 L535.8,254.2 L537.0,256.7 L538.3,259.3 L538.6,262.6 L538.8,263.4 L538.4,266.7 L539.0,269.8 L538.9,271.4 L538.9,273.4 L539.1,276.5 L539.4,279.3 L539.6,280.5 L539.5,283.6 L539.8,285.4 L540.0,289.1 L539.9,291.9 L540.1,293.7 L540.2,296.0 L540.0,293.3 L540.7,291.8 L540.9,288.7 L540.8,285.2 L541.0,283.7 L541.1,281.2 L541.0,278.4 L541.2,276.5 L541.7,274.1 L541.6,271.9 L541.7,269.5 L541.8,271.0 L542.1,275.1 L542.1,278.1 L542.4,279.1 L542.6,283.1 L542.5,283.4 L542.4,286.0 L542.9,290.0 L542.7,292.0 L542.8,294.2 L542.9,296.1 L543.4,300.4 L543.5,300.9 L543.6,304.8 L543.6,306.0 L543.8,310.0 L543.5,312.7 L543.8,313.7 L544.3,316.3 L544.4,320.3 L544.4,321.9 L544.4,324.0 L544.4,327.5 L544.9,329.5 L544.8,330.8 L545.1,333.9 L545.0,336.9 L545.2,339.4 L545.3,342.0 L545.4,344.6 L545.6,347.1 L545.7,349.7 L545.8,352.3 L545.9,354.9 L546.1,357.4 L546.2,360.0 L546.5,362.4 L546.8,364.9 L547.1,367.3 L547.4,369.7 L547.6,372.2 L547.9,374.6 L548.2,377.0 L548.5,379.5 L548.8,381.9 L548.9,379.4 L549.0,377.0 L549.1,374.5 L549.2,372.0 L549.3,369.5 L549.4,367.1 L549.5,364.6 L549.6,362.1 L549.7,359.7 L549.8,357.2 L549.9,354.7 L550.0,352.2 L550.2,349.8 L550.3,347.3 L550.4,344.8 L550.5,342.4 L550.6,339.9 L550.7,337.4 L550.8,335.0 L550.9,332.5 L551.0,330.0 L551.1,327.5 L551.2,325.1 L551.3,322.6 L551.4,325.1 L551.5,327.6 L551.6,330.1 L551.7,332.6 L551.7,335.1 L551.8,337.6 L551.9,340.1 L552.0,342.6 L552.1,345.1 L552.2,347.5 L552.3,350.0 L552.4,352.5 L552.5,355.0 L552.6,357.5 L552.6,360.0 L552.7,362.5 L552.8,365.0 L552.9,367.5 L553.0,370.0 L553.4,372.6 L553.9,375.1 L554.3,377.6 L554.7,380.2 L555.0,382.7 L555.3,385.1 L555.6,387.6 L555.9,390.1 L556.2,392.6 L556.6,395.0 L556.9,397.5 L557.2,400.0 L557.5,402.5 L557.8,404.9 L558.1,407.4 L558.7,404.8 L559.3,402.3 L559.9,399.7 L560.5,397.1 L561.1,394.6 L561.7,392.0 L561.9,389.3 L562.1,386.6 L562.2,383.9 L562.4,381.2 L562.6,378.5 L564.3,380.0 L564.4,382.4 L564.4,384.8 L564.5,387.2 L564.6,389.7 L564.6,392.1 L564.7,394.5 L564.8,396.9 L564.8,399.3 L564.9,401.8 L565.0,404.2 L565.0,406.6 L565.1,409.0 L565.3,411.6 L565.5,414.1 L565.7,416.7 L566.0,419.2 L566.2,421.8 L566.4,424.4 L566.6,426.9 L566.8,429.5 L567.5,426.0 L567.6,428.6 L567.7,431.2 L567.8,433.8 L567.9,436.4 L568.0,439.0 L568.1,441.6 L568.2,444.2 L568.3,446.8 L568.4,449.4 L568.5,452.0 L568.7,449.5 L569.0,447.0 L569.2,444.5 L569.5,442.1 L569.7,439.6 L570.0,437.1 L570.2,434.6 L570.4,437.1 L570.7,439.6 L570.9,442.1 L571.2,444.5 L571.4,447.0 L571.7,449.5 L571.9,452.0 L572.0,449.5 L572.2,447.1 L572.3,444.6 L572.4,442.2 L572.6,439.7 L572.7,437.2 L572.8,434.8 L572.9,432.3 L573.1,429.8 L573.2,427.4 L573.3,424.9 L573.5,422.5 L573.6,420.0 L573.7,422.5 L573.9,425.0 L574.0,427.4 L574.2,429.9 L574.3,432.4 L574.4,434.9 L574.6,437.4 L574.7,439.8 L574.9,442.3 L575.0,444.8 L575.3,442.2 L575.6,439.7 L575.9,437.2 L576.2,434.6 L576.5,432.2 L576.8,429.7 L577.0,427.3 L577.3,424.9 L577.6,422.4 L577.9,420.0 L578.0,422.4 L578.1,424.8 L578.3,427.1 L578.4,429.5 L578.5,431.9 L578.6,434.3 L578.8,436.6 L578.9,439.0 L579.0,441.4 L579.5,438.7 L580.0,436.0 L580.2,438.7 L580.4,441.3 L580.6,444.0 L580.9,446.7 L581.1,449.3 L581.3,452.0 L581.7,449.8 L582.1,447.5 L582.6,445.2 L583.0,443.0 L583.3,445.2 L583.6,447.5 L583.9,449.8 L584.2,452.0 L584.3,449.6 L584.5,447.2 L584.6,444.7 L584.7,442.3 L584.9,439.9 L585.0,437.5 L585.1,435.1 L585.2,432.6 L585.4,430.2 L585.5,427.8 L585.7,430.2 L585.8,432.6 L586.0,435.1 L586.2,437.5 L586.4,439.9 L586.5,442.3 L586.7,444.7 L586.9,447.2 L587.0,449.6 L587.2,452.0 L587.6,449.4 L588.0,446.7 L588.5,444.0 L588.9,441.4 L589.1,439.0 L589.4,436.5 L589.6,434.1 L589.9,431.7 L590.1,429.3 L590.4,426.8 L590.6,424.4 L590.8,426.9 L590.9,429.4 L591.1,431.9 L591.2,434.4 L591.4,436.9 L591.5,439.5 L591.7,442.0 L591.8,444.5 L592.0,447.0 L592.1,449.5 L592.3,452.0 L592.9,449.6 L593.4,447.2 L594.0,444.8 L594.4,447.2 L594.8,449.6 L595.2,452.0 L595.4,449.5 L595.5,447.0 L595.7,444.5 L595.8,442.0 L596.0,439.5 L596.1,437.0 L596.3,434.5 L596.4,432.0 L596.6,429.5 L596.8,432.0 L597.0,434.5 L597.2,437.0 L597.4,439.5 L597.5,442.0 L597.7,444.5 L597.9,447.0 L598.1,449.5 L598.3,452.0 L598.4,449.6 L598.6,447.1 L598.7,444.7 L598.8,442.2 L599.0,439.8 L599.1,437.3 L599.2,434.9 L599.4,432.4 L599.5,430.0 L599.6,427.6 L599.8,425.2 L599.9,422.8 L600.1,420.4 L600.2,417.9 L600.4,415.5 L600.5,413.1 L600.7,410.7 L600.8,408.3 L600.9,410.9 L601.0,413.4 L601.1,416.0 L601.2,418.6 L601.3,421.2 L601.4,423.7 L601.5,426.3 L601.6,428.9 L601.7,431.4 L601.8,434.0 L601.9,436.6 L602.0,439.1 L602.1,441.7 L602.2,444.3 L602.3,446.9 L602.4,449.4 L602.5,452.0 L602.7,449.6 L602.8,447.2 L603.0,444.7 L603.2,442.3 L603.4,439.9 L603.5,437.5 L603.7,435.1 L603.9,432.6 L604.0,430.2 L604.2,427.8 L604.8,430.6 L605.3,433.5 L605.9,436.3 L606.1,434.0 L606.3,431.6 L606.5,429.3 L606.7,427.0 L606.9,424.7 L607.1,422.3 L607.3,420.0 L607.5,422.5 L607.7,425.0 L607.9,427.4 L608.1,429.9 L608.3,432.4 L608.5,434.9 L608.7,437.4 L608.9,439.8 L609.1,442.3 L609.3,444.8 L609.7,442.2 L610.1,439.7 L610.6,437.2 L611.0,434.6 L611.2,437.1 L611.5,439.6 L611.7,442.1 L612.0,444.5 L612.2,447.0 L612.5,449.5 L612.7,452.0 L613.0,449.6 L613.2,447.2 L613.5,444.8 L613.7,442.4 L614.0,440.0 L615.3,438.0 L615.9,435.7 L616.4,433.5 L617.0,431.2 L617.1,428.7 L617.2,426.1 L617.3,423.6 L617.5,421.0 L617.6,418.5 L617.7,415.9 L617.8,413.4 L617.9,410.8 L618.0,408.3 L618.2,405.7 L618.3,403.2 L618.4,400.6 L618.5,398.1 L618.6,395.5 L618.7,393.0 L618.9,390.4 L619.0,387.9 L619.1,385.3 L619.2,382.8 L619.5,385.5 L619.8,388.2 L620.0,390.9 L620.3,393.5 L620.6,396.2 L620.9,398.9 L621.0,401.5 L621.2,404.2 L621.3,406.8 L621.5,409.4 L621.6,412.1 L621.7,414.7 L621.9,417.4 L622.0,420.0 L622.1,422.3 L622.3,424.7 L622.4,427.0 L622.5,429.3 L622.6,431.6 L622.8,434.0 L622.9,436.3 L623.1,433.9 L623.2,431.5 L623.4,429.2 L623.6,426.8 L623.8,424.4 L623.9,422.0 L624.1,419.6 L624.3,417.3 L624.4,414.9 L624.6,412.5 L624.8,410.0 L624.9,407.5 L625.1,405.0 L625.2,402.5 L625.4,400.0 L625.5,397.5 L625.7,395.0 L625.8,392.5 L626.0,390.0 L626.1,387.4 L626.2,384.8 L626.4,382.2 L626.5,379.6 L626.6,377.0 L626.7,374.4 L626.8,371.8 L627.0,369.2 L627.1,366.6 L627.2,364.0 L627.5,366.4 L627.8,368.8 L628.0,371.2 L628.3,373.7 L628.6,376.1 L628.9,378.5 L628.9,380.9 L629.0,383.4 L629.0,385.8 L629.1,388.3 L629.1,390.7 L629.2,393.2 L629.2,395.6 L629.3,398.1 L629.4,400.5 L629.4,402.9 L629.5,405.4 L629.5,407.8 L629.6,410.3 L629.6,412.7 L629.7,415.2 L629.7,417.6 L630.0,415.1 L630.2,412.5 L630.5,410.0 L630.6,412.7 L630.8,415.4 L631.0,418.1 L631.1,420.7 L631.2,423.4 L631.4,426.1 L631.7,428.5 L632.1,430.9 L632.4,433.2 L632.8,435.6 L633.1,438.0 L633.3,435.6 L633.6,433.1 L633.8,430.7 L634.1,428.3 L634.3,425.9 L634.6,423.4 L634.8,421.0 L634.9,423.6 L635.1,426.2 L635.2,428.8 L635.4,431.3 L635.5,433.9 L635.6,436.5 L635.8,439.1 L635.9,441.7 L636.1,444.2 L636.2,446.8 L636.4,449.4 L636.5,452.0 L636.8,449.7 L637.1,447.3 L637.4,445.0 L637.6,442.7 L637.9,440.3 L638.2,438.0 L639.0,436.3 L639.9,434.6 L640.1,437.1 L640.4,439.6 L640.6,442.1 L640.9,444.5 L641.1,447.0 L641.4,449.5 L641.6,452.0 L641.7,449.4 L641.9,446.8 L642.0,444.3 L642.1,441.7 L642.3,439.1 L642.4,436.5 L642.5,434.0 L642.6,431.4 L642.8,428.8 L642.9,426.2 L643.0,423.7 L643.2,421.1 L643.3,418.5 L643.4,421.1 L643.6,423.7 L643.7,426.2 L643.8,428.8 L644.0,431.4 L644.1,434.0 L644.2,436.5 L644.3,439.1 L644.5,441.7 L644.6,444.3 L644.7,446.8 L644.9,449.4 L645.0,452.0 L645.3,449.6 L645.5,447.2 L645.8,444.8 L646.0,442.4 L646.3,440.0 L647.6,443.0 L648.2,440.5 L648.8,438.0 L649.0,440.3 L649.2,442.7 L649.5,445.0 L649.7,447.3 L649.9,449.7 L650.1,452.0 L650.3,449.6 L650.5,447.2 L650.7,444.9 L651.0,442.5 L651.2,440.1 L651.4,437.8 L651.6,435.4 L651.8,433.0 L652.0,435.4 L652.2,437.8 L652.4,440.1 L652.6,442.5 L652.9,444.9 L653.1,447.2 L653.3,449.6 L653.5,452.0 L653.8,449.5 L654.1,447.0 L654.5,444.5 L654.8,442.0 L656.1,444.8 L656.7,442.7 L657.4,440.6 L658.0,438.4 L658.6,436.3 L658.8,438.9 L659.1,441.5 L659.3,444.1 L659.5,446.8 L659.8,449.4 L660.0,452.0 L662.9,452.0 L665.3,452.0 L667.8,452.0 L667.9,449.5 L667.9,447.0 L668.0,444.5 L668.1,442.0 L668.1,439.5 L668.2,437.0 L668.3,434.5 L668.3,432.0 L668.4,429.5 L668.5,427.0 L668.5,424.5 L668.6,422.0 L668.6,419.5 L668.7,417.0 L668.8,414.5 L668.8,412.0 L668.9,409.5 L669.0,407.0 L669.0,404.5 L669.1,402.0 L669.2,399.5 L669.2,397.0 L669.3,394.5 L669.4,392.0 L669.4,389.5 L669.5,387.0 L669.6,389.5 L669.6,392.1 L669.7,394.6 L669.7,397.2 L669.8,399.7 L669.9,402.2 L669.9,404.8 L670.0,407.3 L670.1,409.8 L670.1,412.4 L670.2,414.9 L670.2,417.5 L670.3,420.0 L670.4,417.5 L670.4,414.9 L670.5,412.4 L670.5,409.9 L670.6,407.3 L670.7,404.8 L670.7,402.3 L670.8,399.7 L670.8,397.2 L670.9,394.7 L671.0,392.1 L671.0,389.6 L671.1,387.1 L671.1,384.5 L671.2,382.0 L671.3,384.5 L671.4,387.1 L671.5,389.6 L671.6,392.2 L671.7,394.7 L671.7,397.3 L671.8,399.8 L671.9,402.4 L672.0,404.9 L672.1,407.5 L672.2,410.0 L672.4,407.5 L672.5,405.0 L672.7,402.5 L672.9,400.0 L673.0,402.5 L673.0,405.0 L673.1,407.5 L673.2,410.0 L673.3,412.5 L673.3,415.0 L673.4,417.5 L673.5,420.0 L673.6,422.5 L673.6,425.0 L673.7,427.5 L673.8,430.0 L673.9,427.5 L673.9,424.9 L674.0,422.4 L674.0,419.8 L674.1,417.3 L674.2,414.8 L674.2,412.2 L674.3,409.7 L674.4,407.2 L674.4,404.6 L674.5,402.1 L674.5,399.5 L674.6,397.0 L674.7,399.6 L674.8,402.2 L674.9,404.9 L675.0,407.5 L675.1,410.1 L675.2,412.8 L675.3,415.4 L675.4,418.0 L675.6,415.4 L675.7,412.8 L675.9,410.2 L676.0,407.6 L676.2,405.0 L676.5,407.3 L676.8,409.7 L677.1,412.0 L677.2,414.5 L677.3,417.1 L677.3,419.6 L677.4,422.2 L677.5,424.7 L677.6,427.3 L677.7,429.8 L677.8,432.4 L677.8,434.9 L677.9,437.5 L678.0,440.0 L678.2,437.5 L678.4,435.0 L678.6,432.5 L678.8,430.0 L679.0,432.4 L679.2,434.9 L679.4,437.3 L679.6,439.8 L679.7,442.2 L679.9,444.7 L680.1,447.1 L680.3,449.6 L680.5,452.0 L680.7,449.6 L680.9,447.2 L681.1,444.8 L681.3,442.4 L681.5,440.0 L681.9,437.0 L682.2,434.0 L682.3,431.5 L682.4,429.1 L682.5,426.6 L682.6,424.1 L682.6,421.6 L682.7,419.2 L682.8,416.7 L682.9,414.2 L683.0,411.7 L683.1,409.3 L683.2,406.8 L683.3,404.3 L683.4,401.8 L683.5,399.4 L683.5,396.9 L683.6,394.4 L683.7,391.9 L683.8,389.5 L683.9,387.0 L684.0,384.5 L684.0,382.1 L684.1,379.6 L684.1,377.1 L684.2,374.6 L684.2,372.2 L684.3,369.7 L684.4,367.2 L684.4,364.7 L684.5,362.3 L684.5,359.8 L684.6,357.3 L684.7,354.8 L684.7,352.4 L684.8,349.9 L684.8,347.4 L684.9,344.9 L684.9,342.5 L685.0,340.0 L685.5,337.2 L685.9,334.5 L686.3,331.8 L686.8,329.0 L686.9,331.6 L686.9,334.1 L687.0,336.7 L687.0,339.2 L687.1,341.8 L687.1,344.4 L687.2,346.9 L687.2,349.5 L687.3,352.1 L687.4,354.6 L687.4,357.2 L687.5,359.8 L687.5,362.3 L687.6,364.9 L687.6,367.4 L687.7,370.0 L687.8,367.5 L687.9,365.0 L687.9,362.5 L688.0,360.0 L688.1,357.5 L688.2,355.0 L688.3,352.5 L688.3,350.0 L688.4,347.5 L688.5,345.0 L688.6,347.6 L688.6,350.1 L688.7,352.6 L688.8,355.2 L688.9,357.8 L688.9,360.3 L689.0,362.9 L689.1,365.4 L689.1,367.9 L689.2,370.5 L689.3,373.1 L689.3,375.6 L689.4,378.1 L689.5,380.7 L689.5,383.2 L689.6,385.8 L689.7,388.4 L689.8,390.9 L689.8,393.4 L689.9,396.0 L690.0,393.3 L690.2,390.7 L690.3,388.0 L690.4,385.3 L690.6,382.7 L690.7,380.0 L690.8,382.6 L690.8,385.1 L690.9,387.7 L690.9,390.2 L691.0,392.8 L691.0,395.4 L691.1,397.9 L691.2,400.5 L691.2,403.1 L691.3,405.6 L691.3,408.2 L691.4,410.8 L691.4,413.3 L691.5,415.9 L691.5,418.4 L691.6,421.0 L691.8,418.2 L692.0,415.5 L692.3,412.8 L692.5,410.0 L692.6,412.5 L692.6,415.0 L692.7,417.5 L692.7,420.0 L692.8,422.5 L692.8,425.0 L692.9,427.5 L693.0,430.0 L693.0,432.5 L693.1,435.0 L693.1,437.5 L693.2,440.0 L693.2,442.5 L693.3,445.0 L693.5,442.5 L693.7,440.0 L693.9,437.5 L694.1,435.0 L694.3,432.5 L694.5,430.0 L694.6,427.6 L694.8,425.2 L694.9,422.8 L695.0,420.4 L695.1,418.0 L695.3,415.6 L695.4,413.2 L695.5,410.8 L695.7,408.4 L695.8,406.0 L695.9,408.4 L695.9,410.9 L696.0,413.3 L696.0,415.7 L696.1,418.1 L696.1,420.6 L696.2,423.0 L696.3,425.4 L696.3,427.9 L696.4,430.3 L696.4,432.7 L696.5,435.1 L696.5,437.6 L696.6,440.0 L696.8,442.4 L697.0,444.8 L697.1,447.2 L697.3,449.6 L697.5,452.0 L697.7,449.6 L697.8,447.1 L698.0,444.7 L698.2,442.2 L698.3,439.8 L698.5,437.3 L698.7,434.9 L698.8,432.4 L699.0,430.0 L699.2,427.6 L699.5,425.2 L699.7,422.9 L700.0,420.5 L700.2,418.1 L700.4,415.8 L700.7,413.4 L700.9,411.0 L701.0,413.4 L701.0,415.8 L701.1,418.2 L701.2,420.7 L701.3,423.1 L701.3,425.5 L701.4,427.9 L701.5,430.3 L701.6,432.8 L701.6,435.2 L701.7,437.6 L701.8,440.0 L702.2,443.0 L702.6,446.0 L702.8,443.3 L703.1,440.7 L703.3,438.0 L703.5,435.3 L703.8,432.7 L704.0,430.0 L704.2,432.6 L704.5,435.2 L704.7,437.8 L705.0,440.4 L705.2,443.0 L706.5,440.0 L707.1,443.0 L707.7,446.0 L707.9,443.2 L708.1,440.5 L708.3,437.8 L708.5,435.0 L709.0,438.0 L709.4,441.0 L709.4,438.5 L709.5,436.0 L709.5,433.4 L709.5,430.9 L709.6,428.4 L709.6,425.9 L709.7,423.4 L709.7,420.9 L709.7,418.3 L709.8,415.8 L709.8,413.3 L709.9,410.8 L709.9,408.3 L709.9,405.8 L710.0,403.2 L710.0,400.7 L710.0,398.2 L710.1,395.7 L710.1,393.2 L710.1,390.6 L710.2,388.1 L710.2,385.6 L710.3,383.1 L710.3,380.6 L710.3,378.1 L710.4,375.5 L710.4,373.0 L710.5,370.5 L710.5,368.0 L710.5,365.5 L710.6,362.9 L710.6,360.4 L710.6,357.9 L710.7,355.4 L710.7,352.9 L710.8,350.4 L710.8,347.8 L710.8,345.3 L710.9,342.8 L710.9,340.3 L710.9,337.8 L711.0,335.2 L711.0,332.7 L711.0,330.2 L711.1,327.7 L711.1,325.2 L711.2,322.7 L711.2,320.1 L711.2,317.6 L711.3,315.1 L711.3,312.6 L711.4,310.1 L711.4,307.6 L711.4,305.0 L711.5,302.5 L711.5,300.0 L711.5,297.5 L711.6,295.0 L711.6,292.6 L711.7,290.1 L711.7,287.6 L711.8,285.1 L711.8,282.6 L711.9,280.1 L711.9,277.7 L711.9,275.2 L712.0,272.7 L712.0,270.2 L712.1,267.7 L712.1,265.2 L712.2,262.8 L712.2,260.3 L712.3,257.8 L712.3,255.3 L712.4,252.8 L712.4,250.3 L712.4,247.9 L712.5,245.4 L712.5,242.9 L712.6,240.4 L712.6,237.9 L712.7,235.4 L712.7,233.0 L712.8,230.5 L712.8,228.0 L712.8,230.5 L712.9,233.0 L712.9,235.4 L713.0,237.9 L713.0,240.4 L713.0,242.9 L713.1,245.4 L713.1,247.8 L713.2,250.3 L713.2,252.8 L713.2,255.3 L713.3,257.8 L713.3,260.2 L713.4,262.7 L713.4,265.2 L713.4,267.7 L713.5,270.2 L713.5,272.6 L713.6,275.1 L713.6,277.6 L713.6,280.1 L713.7,282.6 L713.7,285.0 L713.8,287.5 L713.8,290.0 L713.9,292.5 L713.9,294.9 L714.0,297.4 L714.0,299.9 L714.1,302.4 L714.1,304.8 L714.2,307.3 L714.3,309.8 L714.3,312.3 L714.4,314.7 L714.4,317.2 L714.5,319.7 L714.6,322.2 L714.6,324.6 L714.7,327.1 L714.7,329.6 L714.8,332.1 L714.8,334.5 L714.9,337.0 L715.0,339.5 L715.0,342.0 L715.1,344.6 L715.2,347.1 L715.2,349.6 L715.3,352.1 L715.3,354.6 L715.4,357.2 L715.5,359.7 L715.5,362.2 L715.6,364.7 L715.7,367.2 L715.7,369.8 L715.8,372.3 L715.9,374.8 L715.9,377.3 L716.0,379.8 L716.1,382.4 L716.1,384.9 L716.2,387.4 L716.2,389.9 L716.3,392.4 L716.4,395.0 L716.4,397.5 L716.5,400.0 L716.6,402.5 L716.7,405.0 L716.8,407.4 L716.8,409.9 L716.9,412.4 L717.0,414.9 L717.1,417.3 L717.2,419.8 L717.3,422.3 L717.4,424.8 L717.4,427.2 L717.5,429.7 L717.6,432.2 L717.7,434.7 L717.8,437.1 L717.9,439.6 L718.0,442.1 L718.0,444.6 L718.1,447.0 L718.2,449.5 L718.3,452.0 L718.4,449.5 L718.5,447.1 L718.6,444.6 L718.7,442.2 L718.8,439.7 L718.9,437.2 L718.9,434.8 L719.0,432.3 L719.1,429.8 L719.2,427.4 L719.3,424.9 L719.4,422.5 L719.5,420.0 L719.6,422.6 L719.7,425.2 L719.8,427.8 L719.9,430.4 L720.0,433.0 L720.1,435.6 L720.2,438.2 L720.3,440.8 L720.4,443.4 L720.5,446.0 L720.6,443.4 L720.6,440.9 L720.7,438.3 L720.8,435.8 L720.8,433.2 L720.9,430.6 L721.0,428.1 L721.0,425.5 L721.1,422.9 L721.2,420.4 L721.3,417.8 L721.3,415.2 L721.4,412.7 L721.5,410.1 L721.5,407.6 L721.6,405.0 L721.9,402.3 L722.1,399.7 L722.4,397.0 L722.7,394.3 L722.9,391.7 L723.2,389.0 L723.2,391.6 L723.3,394.1 L723.4,396.6 L723.4,399.2 L723.5,401.8 L723.5,404.3 L723.6,406.9 L723.6,409.4 L723.7,411.9 L723.7,414.5 L723.8,417.1 L723.8,419.6 L723.9,422.1 L723.9,424.7 L724.0,427.2 L724.0,429.8 L724.1,432.4 L724.1,434.9 L724.2,437.4 L724.2,440.0 L724.3,437.5 L724.3,435.0 L724.4,432.5 L724.5,430.0 L724.5,427.5 L724.6,425.0 L724.6,422.5 L724.7,420.0 L724.8,417.5 L724.8,415.0 L724.9,412.5 L725.0,410.0 L725.0,407.5 L725.1,405.0 L725.1,402.5 L725.2,400.0 L725.3,402.6 L725.3,405.1 L725.4,407.7 L725.4,410.2 L725.5,412.8 L725.5,415.3 L725.6,417.9 L725.6,420.4 L725.7,423.0 L725.8,425.6 L725.8,428.1 L725.9,430.7 L725.9,433.2 L726.0,435.8 L726.0,438.3 L726.1,440.9 L726.1,443.4 L726.2,446.0 L726.3,443.5 L726.4,440.9 L726.5,438.4 L726.6,435.8 L726.7,433.3 L726.7,430.7 L726.8,428.2 L726.9,425.6 L727.0,423.1 L727.1,420.5 L727.2,418.0 L727.3,420.4 L727.3,422.9 L727.4,425.3 L727.5,427.7 L727.6,430.1 L727.6,432.6 L727.7,435.0 L727.8,437.4 L727.8,439.9 L727.9,442.3 L728.0,444.7 L728.1,447.1 L728.1,449.6 L728.2,452.0 L728.3,449.5 L728.4,447.1 L728.5,444.6 L728.6,442.2 L728.7,439.7 L728.7,437.3 L728.8,434.8 L728.9,432.4 L729.0,429.9 L729.1,427.5 L729.2,425.0 L729.3,427.5 L729.4,429.9 L729.5,432.4 L729.6,434.8 L729.7,437.3 L729.7,439.7 L729.8,442.2 L729.9,444.6 L730.0,447.1 L730.1,449.5 L730.2,452.0 L730.3,449.4 L730.3,446.8 L730.4,444.2 L730.4,441.6 L730.5,439.0 L730.6,436.4 L730.6,433.8 L730.7,431.2 L730.7,428.6 L730.8,426.0 L730.9,428.6 L731.0,431.2 L731.1,433.8 L731.2,436.4 L731.3,439.0 L731.4,441.6 L731.5,444.2 L731.6,446.8 L731.7,449.4 L731.8,452.0 L731.9,449.4 L732.0,446.8 L732.2,444.1 L732.3,441.5 L732.4,438.9 L732.5,436.2 L732.7,433.6 L732.8,431.0 L732.9,433.6 L733.0,436.2 L733.2,438.9 L733.3,441.5 L733.4,444.1 L733.5,446.8 L733.7,449.4 L733.8,452.0 L734.0,449.4 L734.1,446.8 L734.3,444.2 L734.4,441.6 L734.6,439.0 L734.8,441.6 L735.0,444.2 L735.2,446.8 L735.4,449.4 L735.6,452.0 L735.8,449.6 L736.0,447.2 L736.2,444.8 L736.4,442.4 L736.6,440.0 L736.8,442.4 L737.0,444.8 L737.2,447.2 L737.4,449.6 L737.6,452.0 L737.8,449.5 L737.9,447.0 L738.1,444.5 L738.3,442.0 L738.4,439.5 L738.6,437.0 L738.8,439.5 L739.0,442.0 L739.2,444.5 L739.4,447.0 L739.6,449.5 L739.8,452.0 L740.0,449.4 L740.3,446.8 L740.5,444.2 L740.8,441.6 L741.0,439.0 L741.2,441.6 L741.4,444.2 L741.6,446.8 L741.8,449.4 L742.0,452.0 L742.1,449.6 L742.2,447.2 L742.3,444.8 L742.4,442.4 L742.5,440.0 L742.6,437.6 L742.7,435.2 L742.8,432.8 L742.9,430.4 L743.0,428.0 L743.2,425.4 L743.5,422.8 L743.7,420.2 L744.0,417.6 L744.2,415.0 L744.3,417.5 L744.3,419.9 L744.4,422.4 L744.5,424.9 L744.5,427.3 L744.6,429.8 L744.7,432.3 L744.7,434.7 L744.8,437.2 L744.9,439.7 L744.9,442.1 L745.0,444.6 L745.1,447.1 L745.1,449.5 L745.2,452.0 L745.3,449.5 L745.4,446.9 L745.5,444.4 L745.6,441.8 L745.7,439.3 L745.9,436.7 L746.0,434.2 L746.1,431.6 L746.2,429.1 L746.3,426.5 L746.4,424.0 L746.5,426.5 L746.6,429.1 L746.7,431.6 L746.8,434.2 L746.9,436.7 L747.0,439.3 L747.1,441.8 L747.2,444.4 L747.3,446.9 L747.4,449.5 L747.5,452.0 L747.6,449.5 L747.7,447.0 L747.9,444.5 L748.0,442.0 L748.1,439.5 L748.2,437.0 L748.3,434.5 L748.4,432.0 L748.5,429.5 L748.7,427.0 L748.8,424.5 L748.9,422.0 L749.0,424.5 L749.1,427.0 L749.3,429.5 L749.4,432.0 L749.5,434.5 L749.6,437.0 L749.8,439.5 L749.9,442.0 L750.0,444.5 L750.1,447.0 L750.3,449.5 L750.4,452.0 L750.4,449.5 L750.5,447.0 L750.5,444.6 L750.5,442.1 L750.6,439.6 L750.6,437.1 L750.6,434.6 L750.7,432.1 L750.7,429.7 L750.7,427.2 L750.8,424.7 L750.8,422.2 L750.8,419.7 L750.9,417.3 L750.9,414.8 L750.9,412.3 L751.0,409.8 L751.0,407.3 L751.0,404.9 L751.1,402.4 L751.1,399.9 L751.1,397.4 L751.2,394.9 L751.2,392.4 L751.2,390.0 L751.3,387.5 L751.3,385.0 L751.4,387.5 L751.4,390.0 L751.5,392.5 L751.6,395.0 L751.6,397.5 L751.7,400.0 L751.8,402.5 L751.8,405.0 L751.9,407.5 L751.9,410.0 L752.0,412.5 L752.1,415.0 L752.1,417.5 L752.2,420.0 L752.2,417.5 L752.3,415.1 L752.3,412.6 L752.4,410.2 L752.4,407.7 L752.4,405.2 L752.5,402.8 L752.5,400.3 L752.5,397.9 L752.6,395.4 L752.6,393.0 L752.7,390.5 L752.7,388.0 L752.7,385.6 L752.8,383.1 L752.8,380.7 L752.8,378.2 L752.9,375.8 L752.9,373.3 L753.0,370.8 L753.0,368.4 L753.0,365.9 L753.1,363.5 L753.1,361.0 L753.1,363.5 L753.2,366.0 L753.2,368.4 L753.3,370.9 L753.3,373.4 L753.3,375.9 L753.4,378.4 L753.4,380.9 L753.5,383.3 L753.5,385.8 L753.5,388.3 L753.6,390.8 L753.6,393.3 L753.7,395.7 L753.7,398.2 L753.8,400.7 L753.8,403.2 L753.8,405.7 L753.9,408.1 L753.9,410.6 L754.0,413.1 L754.0,415.6 L754.0,418.1 L754.1,420.6 L754.1,423.0 L754.2,425.5 L754.2,428.0 L754.3,425.5 L754.3,422.9 L754.4,420.4 L754.5,417.9 L754.5,415.4 L754.6,412.8 L754.7,410.3 L754.7,407.8 L754.8,405.2 L754.8,402.7 L754.9,400.2 L755.0,397.6 L755.0,395.1 L755.1,392.6 L755.2,390.1 L755.2,387.5 L755.3,385.0 L755.4,382.4 L755.4,379.9 L755.5,377.4 L755.5,374.8 L755.6,372.2 L755.7,369.7 L755.7,367.1 L755.8,364.6 L755.8,362.1 L755.9,359.5 L756.0,356.9 L756.0,354.4 L756.1,351.9 L756.1,349.3 L756.2,346.8 L756.3,344.2 L756.3,341.6 L756.4,339.1 L756.4,336.6 L756.5,334.0 L756.7,331.3 L756.8,328.7 L757.0,326.0 L757.2,323.3 L757.3,320.7 L757.5,318.0 L757.6,315.6 L757.7,313.1 L757.8,310.7 L757.9,308.2 L758.0,305.8 L758.1,303.3 L758.1,300.9 L758.2,298.4 L758.3,296.0 L758.4,293.5 L758.5,291.1 L758.6,288.6 L758.7,286.2 L758.8,288.5 L758.9,290.8 L759.0,293.1 L759.2,295.4 L759.3,297.7 L759.4,300.0 L759.5,302.8 L759.6,305.5 L759.8,308.2 L759.9,311.0" fill="none" stroke="#f7d014" stroke-width="2" stroke-linejoin="round"/><path d="M50.7,413.8 L52.6,452.0 L53.9,441.9 L55.5,423.8 L56.5,452.0 L58.5,413.8 L59.8,447.2 L61.7,426.9 L63.7,419.6 L65.6,452.0 L68.5,418.0 L70.2,441.9 L72.1,447.2 L74.1,428.4 L75.7,433.6 L77.3,452.0 L79.3,452.0 L81.2,434.6 L83.2,452.0 L85.1,438.8 L87.5,411.8 L89.0,440.4 L91.0,440.9 L93.3,396.5 L94.9,423.2 L96.2,412.8 L98.1,404.5 L100.1,444.0 L101.4,452.0 L102.7,433.6 M116.3,436.8 L117.6,445.0 L119.6,426.3 L120.9,441.9 L122.2,424.8 L123.7,447.1 L125.7,436.7 L127.6,430.5 L128.9,441.9 L130.9,421.1 L132.8,452.0 L134.8,436.7 L137.4,426.9 L139.3,445.0 L140.6,432.6 L142.6,429.0 L144.5,441.9 L146.5,452.0 L148.4,422.2 L150.4,452.0 L153.0,444.0 L154.6,436.7 L156.2,433.6 L158.2,441.9 L159.9,428.4 L162.7,437.8 L165.3,452.0 L167.3,452.0 L169.9,440.9 L172.5,452.0 L174.4,452.0 L176.4,433.6 L178.3,410.2 L180.3,415.9 L181.6,408.6 L182.9,426.3 L184.2,406.1 L186.1,423.2 L188.1,441.9 L190.7,423.2 L193.3,411.3 L195.2,428.4 L196.5,452.0 L197.4,452.0 L200.0,452.0 L202.0,443.0 L203.9,452.0 L206.5,441.9 L209.1,452.0 L211.7,441.9 L213.7,452.0 L216.3,434.6 L217.6,447.1 L219.2,427.9 L220.8,431.5 L222.8,441.9 L224.1,452.0 L226.7,417.0 L228.6,431.5 L229.9,452.0 L232.5,445.0 L234.5,431.5 L236.4,452.0 L239.0,439.8 L242.3,398.0 L243.4,452.0 L245.5,447.1 L248.8,416.5 L250.7,433.6 L252.7,412.8 L254.6,431.5 L256.6,420.1 L258.5,444.0 L261.1,452.0 L264.4,432.6 L266.6,452.0 L269.6,351.2 L270.6,364.0 L271.6,354.4 L272.6,394.4 L274.1,452.0 L276.1,452.0 L278.1,430.4 L280.1,444.8 L282.1,438.4 L284.1,452.0 L286.1,422.4 L288.1,438.4 L289.5,406.4 L291.1,427.2 L293.1,384.0 L295.1,452.0 L297.1,435.2 L300.1,400.0 L302.1,452.0 L303.1,390.4 L305.1,422.4 L306.1,396.8 L309.1,412.8 L311.1,452.0 L313.1,398.4 L314.1,418.4 L315.1,388.8 L316.1,406.4 L317.3,374.1 L318.1,398.4 L319.9,360.5 L320.4,382.4 L321.1,346.9 M562.8,404.0 L563.7,393.2 L565.4,394.4 L566.2,417.6 L567.9,434.0 L568.6,431.2 L569.6,452.0 L571.3,438.1 L573.0,452.0 L574.7,426.4 L576.1,446.2 L577.3,438.1 L579.0,426.4 L580.1,443.5 L581.1,439.2 L582.4,452.0 L584.1,444.8 L585.3,452.0 L586.6,432.6 L588.3,452.0 L590.0,443.5 L591.7,429.9 L593.4,452.0 L595.1,446.2 L596.3,452.0 L597.7,434.0 L599.4,452.0 L600.6,434.4 L601.9,417.0 L603.6,452.0 L605.3,432.6 L607.0,439.4 L608.4,426.4 L610.4,446.2 L612.1,438.1 L613.8,452.0 L615.1,442.4 L616.4,440.8 L618.1,435.4 L620.3,396.6 L622.0,409.5 L623.1,426.4 L624.0,439.4 L625.7,420.4 L627.1,402.4 L628.3,381.6 L630.0,393.2 L630.8,424.5 L631.6,418.4 L632.5,431.3 L634.2,440.8 L635.9,427.2 L637.6,452.0 L639.3,440.8 L641.0,438.1 L642.7,452.0 L644.4,425.2 L646.1,452.0 L647.4,442.4 L648.7,444.8 L649.9,440.8 L651.2,452.0 L652.9,436.8 L654.6,452.0 L655.9,444.0 L657.2,446.2 L659.7,439.4 L661.1,452.0 L664.0,452.0 L668.9,452.0 L670.6,400.0 L671.4,426.4 L672.3,396.0 L673.3,418.4 L674.0,410.4 L674.9,434.4 L675.7,408.0 L676.5,424.8 L677.3,414.4 L678.2,420.0 L679.1,442.4 L679.9,434.4 L681.6,452.0 L682.6,442.4 L683.3,437.6 L685.0,400.0 L686.1,362.4 L687.9,353.6 L688.8,386.4 L689.6,366.4 L691.0,407.2 L691.8,394.4 L692.7,427.2 L693.6,418.4 L694.4,446.4 L695.6,434.4 L696.9,415.2 L697.7,442.4 L698.6,452.0 L700.1,434.4 L702.0,419.2 L702.9,442.4 L703.7,447.2 L705.1,434.4 L706.3,444.8 L707.6,442.4 L708.8,447.2 L709.6,438.4 L710.5,443.2 M717.6,410.4 L719.4,452.0 L720.6,426.4 L721.6,447.2 L722.7,414.4 L724.3,401.6 L725.3,442.4 L726.3,410.4 L727.3,447.2 L728.3,424.8 L729.3,452.0 L730.3,430.4 L731.3,452.0 L731.9,431.2 L732.9,452.0 L733.9,435.2 L734.9,452.0 L735.7,441.6 L736.7,452.0 L737.7,442.4 L738.7,452.0 L739.7,440.0 L740.9,452.0 L742.1,441.6 L743.1,452.0 L744.1,432.8 L745.3,422.4 L746.3,452.0 L747.5,429.6 L748.6,452.0 L750.0,428.0 L751.5,452.0 L752.4,398.4" fill="none" stroke="#f7d014" stroke-width="1.6" stroke-linejoin="round"/><rect x="148.6" y="45.4" width="529.2" height="18.7" fill="#ffffff" fill-opacity="0.75"/><line x1="173" y1="54.7" x2="197.8" y2="54.7" stroke="#58b9c4" stroke-width="2.2"/><line x1="422" y1="54.7" x2="446.6" y2="54.7" stroke="#f7d014" stroke-width="2.2"/><text x="200.5" y="58.6" font-family='"Liberation Sans", sans-serif' font-size="12.8" fill="#333333" text-anchor="start" font-weight="bold" textLength="194.7" lengthAdjust="spacingAndGlyphs">Initial Unemployment Claims, 4-Wk MA</text><text x="448.5" y="58.6" font-family='"Liberation Sans", sans-serif' font-size="12.8" fill="#333333" text-anchor="start" font-weight="bold" textLength="204.7" lengthAdjust="spacingAndGlyphs">S&amp;P 500 Drawdown from Peak (Inverted)</text><text x="9.5" y="17.6" font-family='"Liberation Sans", sans-serif' font-size="13.4" fill="#5c5c5c" text-anchor="start" font-weight="normal" textLength="214.5" lengthAdjust="spacingAndGlyphs">WEEKLY UNEMPLOYMENT CLAIMS, 000s</text><text x="638.3" y="17.6" font-family='"Liberation Sans", sans-serif' font-size="13.4" fill="#5c5c5c" text-anchor="start" font-weight="normal" textLength="180.1" lengthAdjust="spacingAndGlyphs">S&amp;P 500 DRAWDOWN FROM PEAK</text><text x="9" y="34.8" font-family='"Liberation Sans", sans-serif' font-size="11.5" fill="#666666" text-anchor="start" font-weight="normal" textLength="28.4" lengthAdjust="spacingAndGlyphs">10,000</text><text x="14.4" y="245.4" font-family='"Liberation Sans", sans-serif' font-size="11.5" fill="#666666" text-anchor="start" font-weight="normal" textLength="23.7" lengthAdjust="spacingAndGlyphs">1,000</text><text x="24" y="455.4" font-family='"Liberation Sans", sans-serif' font-size="11.5" fill="#666666" text-anchor="start" font-weight="normal" textLength="14.2" lengthAdjust="spacingAndGlyphs">100</text><text x="799" y="456.1" font-family='"Liberation Sans", sans-serif' font-size="11.5" fill="#666666" text-anchor="start" font-weight="normal" textLength="13" lengthAdjust="spacingAndGlyphs">0%</text><text x="799" y="385.9" font-family='"Liberation Sans", sans-serif' font-size="11.5" fill="#666666" text-anchor="start" font-weight="normal" textLength="19.4" lengthAdjust="spacingAndGlyphs">10%</text><text x="799" y="315.8" font-family='"Liberation Sans", sans-serif' font-size="11.5" fill="#666666" text-anchor="start" font-weight="normal" textLength="19.4" lengthAdjust="spacingAndGlyphs">20%</text><text x="799" y="245.6" font-family='"Liberation Sans", sans-serif' font-size="11.5" fill="#666666" text-anchor="start" font-weight="normal" textLength="19.4" lengthAdjust="spacingAndGlyphs">30%</text><text x="799" y="175.4" font-family='"Liberation Sans", sans-serif' font-size="11.5" fill="#666666" text-anchor="start" font-weight="normal" textLength="19.4" lengthAdjust="spacingAndGlyphs">40%</text><text x="799" y="105.2" font-family='"Liberation Sans", sans-serif' font-size="11.5" fill="#666666" text-anchor="start" font-weight="normal" textLength="19.4" lengthAdjust="spacingAndGlyphs">50%</text><text x="799" y="35.1" font-family='"Liberation Sans", sans-serif' font-size="11.5" fill="#666666" text-anchor="start" font-weight="normal" textLength="19.4" lengthAdjust="spacingAndGlyphs">60%</text><text x="49.7" y="472" font-family='"Liberation Sans", sans-serif' font-size="11.8" fill="#666666" text-anchor="middle" font-weight="normal" textLength="12.6" lengthAdjust="spacingAndGlyphs">’88</text><text x="70.3" y="472" font-family='"Liberation Sans", sans-serif' font-size="11.8" fill="#666666" text-anchor="middle" font-weight="normal" textLength="12.6" lengthAdjust="spacingAndGlyphs">’89</text><text x="90.9" y="472" font-family='"Liberation Sans", sans-serif' font-size="11.8" fill="#666666" text-anchor="middle" font-weight="normal" textLength="12.6" lengthAdjust="spacingAndGlyphs">’90</text><text x="111.5" y="472" font-family='"Liberation Sans", sans-serif' font-size="11.8" fill="#666666" text-anchor="middle" font-weight="normal" textLength="12.6" lengthAdjust="spacingAndGlyphs">’91</text><text x="132.1" y="472" font-family='"Liberation Sans", sans-serif' font-size="11.8" fill="#666666" text-anchor="middle" font-weight="normal" textLength="12.6" lengthAdjust="spacingAndGlyphs">’92</text><text x="152.7" y="472" font-family='"Liberation Sans", sans-serif' font-size="11.8" fill="#666666" text-anchor="middle" font-weight="normal" textLength="12.6" lengthAdjust="spacingAndGlyphs">’93</text><text x="173.3" y="472" font-family='"Liberation Sans", sans-serif' font-size="11.8" fill="#666666" text-anchor="middle" font-weight="normal" textLength="12.6" lengthAdjust="spacingAndGlyphs">’94</text><text x="193.9" y="472" font-family='"Liberation Sans", sans-serif' font-size="11.8" fill="#666666" text-anchor="middle" font-weight="normal" textLength="12.6" lengthAdjust="spacingAndGlyphs">’95</text><text x="214.5" y="472" font-family='"Liberation Sans", sans-serif' font-size="11.8" fill="#666666" text-anchor="middle" font-weight="normal" textLength="12.6" lengthAdjust="spacingAndGlyphs">’96</text><text x="235.1" y="472" font-family='"Liberation Sans", sans-serif' font-size="11.8" fill="#666666" text-anchor="middle" font-weight="normal" textLength="12.6" lengthAdjust="spacingAndGlyphs">’97</text><text x="255.7" y="472" font-family='"Liberation Sans", sans-serif' font-size="11.8" fill="#666666" text-anchor="middle" font-weight="normal" textLength="12.6" lengthAdjust="spacingAndGlyphs">’98</text><text x="276.3" y="472" font-family='"Liberation Sans", sans-serif' font-size="11.8" fill="#666666" text-anchor="middle" font-weight="normal" textLength="12.6" lengthAdjust="spacingAndGlyphs">’99</text><text x="296.9" y="472" font-family='"Liberation Sans", sans-serif' font-size="11.8" fill="#666666" text-anchor="middle" font-weight="normal" textLength="12.6" lengthAdjust="spacingAndGlyphs">’00</text><text x="317.5" y="472" font-family='"Liberation Sans", sans-serif' font-size="11.8" fill="#666666" text-anchor="middle" font-weight="normal" textLength="12.6" lengthAdjust="spacingAndGlyphs">’01</text><text x="338.1" y="472" font-family='"Liberation Sans", sans-serif' font-size="11.8" fill="#666666" text-anchor="middle" font-weight="normal" textLength="12.6" lengthAdjust="spacingAndGlyphs">’02</text><text x="358.7" y="472" font-family='"Liberation Sans", sans-serif' font-size="11.8" fill="#666666" text-anchor="middle" font-weight="normal" textLength="12.6" lengthAdjust="spacingAndGlyphs">’03</text><text x="379.3" y="472" font-family='"Liberation Sans", sans-serif' font-size="11.8" fill="#666666" text-anchor="middle" font-weight="normal" textLength="12.6" lengthAdjust="spacingAndGlyphs">’04</text><text x="399.9" y="472" font-family='"Liberation Sans", sans-serif' font-size="11.8" fill="#666666" text-anchor="middle" font-weight="normal" textLength="12.6" lengthAdjust="spacingAndGlyphs">’05</text><text x="420.5" y="472" font-family='"Liberation Sans", sans-serif' font-size="11.8" fill="#666666" text-anchor="middle" font-weight="normal" textLength="12.6" lengthAdjust="spacingAndGlyphs">’06</text><text x="441.1" y="472" font-family='"Liberation Sans", sans-serif' font-size="11.8" fill="#666666" text-anchor="middle" font-weight="normal" textLength="12.6" lengthAdjust="spacingAndGlyphs">’07</text><text x="461.7" y="472" font-family='"Liberation Sans", sans-serif' font-size="11.8" fill="#666666" text-anchor="middle" font-weight="normal" textLength="12.6" lengthAdjust="spacingAndGlyphs">’08</text><text x="482.3" y="472" font-family='"Liberation Sans", sans-serif' font-size="11.8" fill="#666666" text-anchor="middle" font-weight="normal" textLength="12.6" lengthAdjust="spacingAndGlyphs">’09</text><text x="502.9" y="472" font-family='"Liberation Sans", sans-serif' font-size="11.8" fill="#666666" text-anchor="middle" font-weight="normal" textLength="12.6" lengthAdjust="spacingAndGlyphs">’10</text><text x="523.5" y="472" font-family='"Liberation Sans", sans-serif' font-size="11.8" fill="#666666" text-anchor="middle" font-weight="normal" textLength="12.6" lengthAdjust="spacingAndGlyphs">’11</text><text x="544.1" y="472" font-family='"Liberation Sans", sans-serif' font-size="11.8" fill="#666666" text-anchor="middle" font-weight="normal" textLength="12.6" lengthAdjust="spacingAndGlyphs">’12</text><text x="564.7" y="472" font-family='"Liberation Sans", sans-serif' font-size="11.8" fill="#666666" text-anchor="middle" font-weight="normal" textLength="12.6" lengthAdjust="spacingAndGlyphs">’13</text><text x="585.3" y="472" font-family='"Liberation Sans", sans-serif' font-size="11.8" fill="#666666" text-anchor="middle" font-weight="normal" textLength="12.6" lengthAdjust="spacingAndGlyphs">’14</text><text x="605.9" y="472" font-family='"Liberation Sans", sans-serif' font-size="11.8" fill="#666666" text-anchor="middle" font-weight="normal" textLength="12.6" lengthAdjust="spacingAndGlyphs">’15</text><text x="626.5" y="472" font-family='"Liberation Sans", sans-serif' font-size="11.8" fill="#666666" text-anchor="middle" font-weight="normal" textLength="12.6" lengthAdjust="spacingAndGlyphs">’16</text><text x="647.1" y="472" font-family='"Liberation Sans", sans-serif' font-size="11.8" fill="#666666" text-anchor="middle" font-weight="normal" textLength="12.6" lengthAdjust="spacingAndGlyphs">’17</text><text x="667.7" y="472" font-family='"Liberation Sans", sans-serif' font-size="11.8" fill="#666666" text-anchor="middle" font-weight="normal" textLength="12.6" lengthAdjust="spacingAndGlyphs">’18</text><text x="688.3" y="472" font-family='"Liberation Sans", sans-serif' font-size="11.8" fill="#666666" text-anchor="middle" font-weight="normal" textLength="12.6" lengthAdjust="spacingAndGlyphs">’19</text><text x="708.9" y="472" font-family='"Liberation Sans", sans-serif' font-size="11.8" fill="#666666" text-anchor="middle" font-weight="normal" textLength="12.6" lengthAdjust="spacingAndGlyphs">’20</text><text x="729.5" y="472" font-family='"Liberation Sans", sans-serif' font-size="11.8" fill="#666666" text-anchor="middle" font-weight="normal" textLength="12.6" lengthAdjust="spacingAndGlyphs">’21</text><text x="750.1" y="472" font-family='"Liberation Sans", sans-serif' font-size="11.8" fill="#666666" text-anchor="middle" font-weight="normal" textLength="12.6" lengthAdjust="spacingAndGlyphs">’22</text><text x="770.7" y="472" font-family='"Liberation Sans", sans-serif' font-size="11.8" fill="#666666" text-anchor="middle" font-weight="normal" textLength="12.6" lengthAdjust="spacingAndGlyphs">’23</text><text x="9.4" y="490" font-family='"Liberation Sans", sans-serif' font-size="9.6" fill="#858585" text-anchor="start" font-weight="normal" textLength="131.8" lengthAdjust="spacingAndGlyphs">Source: SpringTide, Bloomberg, FRED</text></svg>
</body></html>
